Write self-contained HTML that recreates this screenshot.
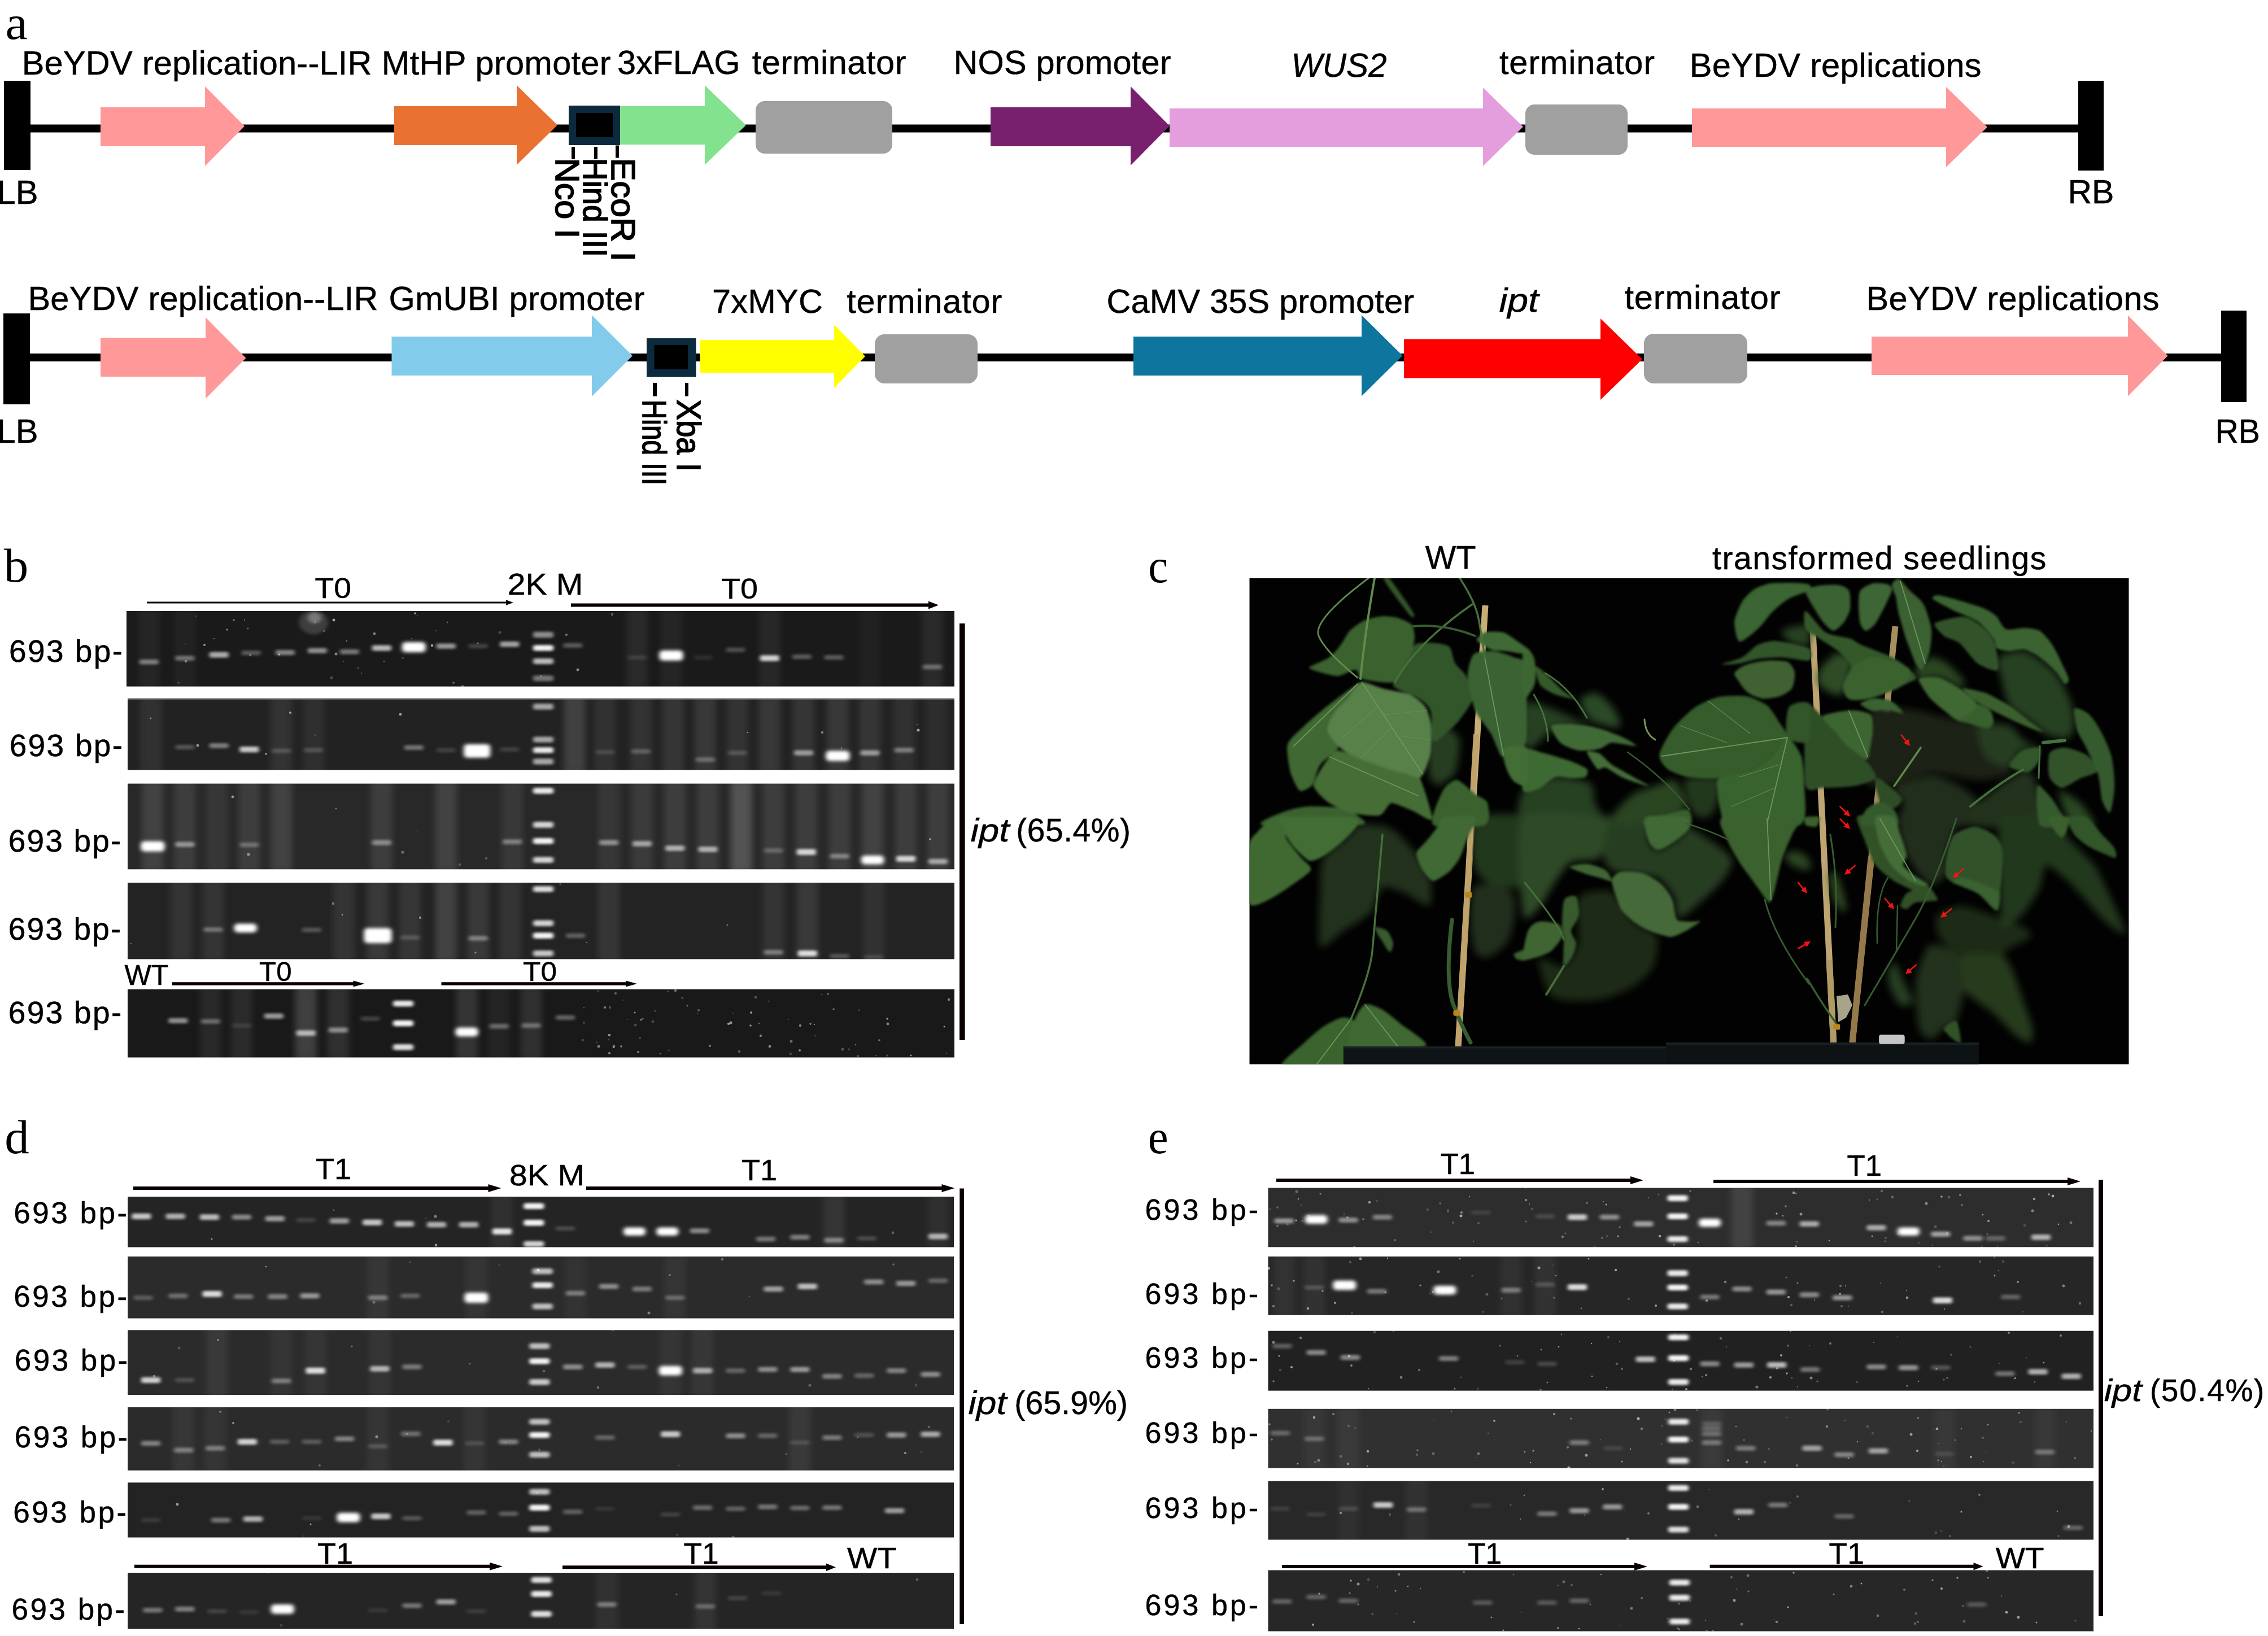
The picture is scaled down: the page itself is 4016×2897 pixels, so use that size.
<!DOCTYPE html>
<html lang="en"><head><meta charset="utf-8"><title>Figure</title>
<style>
html,body{margin:0;padding:0;background:#fff;}
body{width:4016px;height:2897px;overflow:hidden;}
svg{display:block;}
text{font-family:"Liberation Sans", Arial, sans-serif;fill:#000;stroke:#000;stroke-width:0.5px;}
text.v{stroke-width:1.7px;}
text.se{font-family:"Liberation Serif", "Times New Roman", serif;stroke-width:0;}
</style></head><body>
<svg width="4016" height="2897" viewBox="0 0 4016 2897">
<defs>
<filter id="b1" x="-20%" y="-60%" width="140%" height="220%"><feGaussianBlur stdDeviation="3 2"/></filter>
<filter id="b2" x="-20%" y="-60%" width="140%" height="220%"><feGaussianBlur stdDeviation="3.6 2.8"/></filter>
<filter id="bs" x="-30%" y="-10%" width="160%" height="120%"><feGaussianBlur stdDeviation="6 9"/></filter>
<filter id="lf" x="-5%" y="-5%" width="110%" height="110%"><feGaussianBlur stdDeviation="2.2"/></filter>
<filter id="lf2" x="-5%" y="-5%" width="110%" height="110%"><feGaussianBlur stdDeviation="7"/></filter>
</defs>
<rect width="4016" height="2897" fill="#fff"/>

<g id="panel-a">
<text x="9.5" y="69.2" font-size="84" textLength="39.3" lengthAdjust="spacingAndGlyphs" class="se" fill="#000">a</text>
<rect x="53.0" y="220.5" width="3628.0" height="14.0" fill="#000"/>
<rect x="7.0" y="143.0" width="47.0" height="158.0" fill="#000"/>
<rect x="3680.0" y="143.0" width="45.0" height="159.0" fill="#000"/>
<path d="M178.0 190.0H363.0V153.0L433.0 223.5L363.0 294.0V259.0H178.0Z" fill="#FF9999"/>
<path d="M698.0 188.0H915.0V151.0L987.0 221.5L915.0 292.0V257.0H698.0Z" fill="#E97132"/>
<rect x="1007.0" y="187.0" width="91.0" height="70.0" fill="#0B2A3D"/>
<rect x="1020.0" y="200.0" width="65.0" height="43.0" fill="#000"/>
<path d="M1098.0 188.0H1248.0V151.0L1321.0 221.5L1248.0 292.0V256.0H1098.0Z" fill="#83E28E"/>
<rect x="1338.0" y="179.0" width="242.0" height="93.0" rx="16" fill="#A0A0A0"/>
<path d="M1754.0 190.0H2002.0V153.0L2071.0 223.0L2002.0 293.0V259.0H1754.0Z" fill="#78206E"/>
<path d="M2071.0 192.0H2626.0V155.0L2697.0 224.5L2626.0 294.0V260.0H2071.0Z" fill="#E49EDD"/>
<rect x="2701.0" y="185.0" width="181.0" height="89.0" rx="16" fill="#A0A0A0"/>
<path d="M2996.0 192.0H3446.0V154.0L3519.0 225.0L3446.0 296.0V260.0H2996.0Z" fill="#FF9999"/>
<text x="38.7" y="132.0" font-size="59.5" textLength="619.8" lengthAdjust="spacing" fill="#000">BeYDV replication--LIR</text>
<text x="675.8" y="131.8" font-size="59.5" textLength="405.7" lengthAdjust="spacing" fill="#000">MtHP promoter</text>
<text x="1093.0" y="130.8" font-size="59.5" textLength="217.5" lengthAdjust="spacing" fill="#000">3xFLAG</text>
<text x="1331.8" y="130.8" font-size="59.5" textLength="272.7" lengthAdjust="spacing" fill="#000">terminator</text>
<text x="1688.4" y="131.0" font-size="59.5" textLength="385.1" lengthAdjust="spacing" fill="#000">NOS promoter</text>
<text x="2286.4" y="135.8" font-size="59.5" textLength="169.1" lengthAdjust="spacingAndGlyphs" font-style="italic" fill="#000">WUS2</text>
<text x="2654.9" y="130.7" font-size="59.5" textLength="275.2" lengthAdjust="spacing" fill="#000">terminator</text>
<text x="2991.8" y="135.8" font-size="59.5" textLength="516.7" lengthAdjust="spacing" fill="#000">BeYDV replications</text>
<text x="-5.6" y="361.0" font-size="59.5" textLength="73.1" lengthAdjust="spacingAndGlyphs" fill="#000">LB</text>
<text x="3661.4" y="360.0" font-size="59.5" textLength="82.1" lengthAdjust="spacingAndGlyphs" fill="#000">RB</text>
<rect x="1012.0" y="260.0" width="6.0" height="21.5" fill="#000"/>
<text class="v" transform="translate(984.0,279.8) rotate(90)" font-size="60" textLength="142.4" lengthAdjust="spacingAndGlyphs">Nco I</text>
<rect x="1052.0" y="260.0" width="6.0" height="21.5" fill="#000"/>
<text class="v" transform="translate(1032.6,279.8) rotate(90)" font-size="60" textLength="175.4" lengthAdjust="spacingAndGlyphs">Hind III</text>
<rect x="1090.0" y="257.5" width="6.0" height="22.0" fill="#000"/>
<text class="v" transform="translate(1082.5,279.8) rotate(90)" font-size="60" textLength="182.9" lengthAdjust="spacingAndGlyphs">EcoR I</text>
<rect x="53.0" y="626.0" width="3881.0" height="14.0" fill="#000"/>
<rect x="6.0" y="555.0" width="47.0" height="161.0" fill="#000"/>
<rect x="3933.0" y="550.0" width="45.0" height="162.0" fill="#000"/>
<path d="M178.0 598.0H364.0V562.0L435.5 634.0L364.0 706.0V667.0H178.0Z" fill="#FF9999"/>
<path d="M693.5 596.0H1048.0V558.0L1120.0 630.0L1048.0 702.0V665.0H693.5Z" fill="#83CBEB"/>
<rect x="1145.0" y="599.0" width="87.5" height="68.6" fill="#0B2A3D"/>
<rect x="1158.5" y="611.0" width="59.5" height="43.0" fill="#000"/>
<path d="M1239.5 602.0H1477.0V575.0L1532.0 631.0L1477.0 687.0V660.0H1239.5Z" fill="#FFFF00"/>
<rect x="1549.0" y="592.0" width="182.0" height="87.0" rx="17" fill="#A0A0A0"/>
<path d="M2007.0 596.0H2411.0V558.0L2483.5 629.8L2411.0 701.5V665.0H2007.0Z" fill="#0E769E"/>
<path d="M2486.0 600.6H2834.0V564.0L2908.0 636.0L2834.0 708.0V669.5H2486.0Z" fill="#FF0000"/>
<rect x="2911.0" y="591.0" width="183.0" height="88.0" rx="17" fill="#A0A0A0"/>
<path d="M3314.0 596.0H3768.0V558.5L3838.5 630.0L3768.0 701.5V664.0H3314.0Z" fill="#FF9999"/>
<text x="49.4" y="549.0" font-size="59.5" textLength="620.1" lengthAdjust="spacing" fill="#000">BeYDV replication--LIR</text>
<text x="688.4" y="549.0" font-size="59.5" textLength="453.1" lengthAdjust="spacing" fill="#000">GmUBI promoter</text>
<text x="1261.1" y="554.0" font-size="59.5" textLength="195.8" lengthAdjust="spacing" stroke-width="1.4" fill="#000">7xMYC</text>
<text x="1499.2" y="553.5" font-size="59.5" textLength="275.1" lengthAdjust="spacing" stroke-width="1.4" fill="#000">terminator</text>
<text x="1959.4" y="553.5" font-size="59.5" textLength="544.6" lengthAdjust="spacing" stroke-width="1.4" fill="#000">CaMV 35S promoter</text>
<text x="2654.4" y="552.0" font-size="59.5" textLength="70.1" lengthAdjust="spacingAndGlyphs" font-style="italic" fill="#000">ipt</text>
<text x="2876.4" y="547.0" font-size="59.5" textLength="276.1" lengthAdjust="spacing" fill="#000">terminator</text>
<text x="3304.4" y="549.0" font-size="59.5" textLength="519.1" lengthAdjust="spacing" fill="#000">BeYDV replications</text>
<text x="-5.6" y="784.0" font-size="59.5" textLength="73.1" lengthAdjust="spacingAndGlyphs" fill="#000">LB</text>
<text x="3922.4" y="784.0" font-size="59.5" textLength="79.6" lengthAdjust="spacingAndGlyphs" fill="#000">RB</text>
<rect x="1156.0" y="678.0" width="7.0" height="23.6" fill="#000"/>
<text class="v" transform="translate(1138.4,707.8) rotate(90)" font-size="60" textLength="151.4" lengthAdjust="spacingAndGlyphs">Hind III</text>
<rect x="1213.0" y="678.0" width="6.0" height="23.6" fill="#000"/>
<text class="v" transform="translate(1198.6,707.4) rotate(90)" font-size="60" textLength="127.8" lengthAdjust="spacingAndGlyphs">Xba I</text>
</g>
<g id="panel-b">
<text x="6.8" y="1030.0" font-size="85" textLength="43.5" lengthAdjust="spacingAndGlyphs" class="se" fill="#000">b</text>
<text x="16.1" y="1171.5" font-size="55" textLength="201.0" lengthAdjust="spacing" stroke-width="0.8" fill="#000">693 bp-</text>
<text x="16.7" y="1338.8" font-size="55" textLength="200.4" lengthAdjust="spacing" stroke-width="0.8" fill="#000">693 bp-</text>
<text x="14.7" y="1507.6" font-size="55" textLength="199.6" lengthAdjust="spacing" stroke-width="0.8" fill="#000">693 bp-</text>
<text x="14.7" y="1663.6" font-size="55" textLength="199.6" lengthAdjust="spacing" stroke-width="0.8" fill="#000">693 bp-</text>
<text x="14.7" y="1812.0" font-size="55" textLength="200.6" lengthAdjust="spacing" stroke-width="0.8" fill="#000">693 bp-</text>
<text x="557.6" y="1059.0" font-size="50" textLength="64.4" lengthAdjust="spacingAndGlyphs" stroke-width="2.0" fill="#000">T0</text>
<text x="898.8" y="1053.0" font-size="54" textLength="133.5" lengthAdjust="spacingAndGlyphs" stroke-width="2.0" fill="#000">2K M</text>
<text x="1277.0" y="1060.0" font-size="50" textLength="65.0" lengthAdjust="spacingAndGlyphs" stroke-width="2.0" fill="#000">T0</text>
<path d="M260.0 1065.5H896.0V1062.2L909.0 1067.0L896.0 1071.8V1068.5H260.0Z" fill="#0a0000"/>
<path d="M1011.0 1068.5H1644.0V1064.5L1662.0 1071.5L1644.0 1078.5V1074.5H1011.0Z" fill="#0a0000"/>
<text x="220.5" y="1744.0" font-size="50" textLength="78.0" lengthAdjust="spacingAndGlyphs" stroke-width="2.0" fill="#000">WT</text>
<text x="459.1" y="1737.0" font-size="49" textLength="57.4" lengthAdjust="spacingAndGlyphs" stroke-width="2.0" fill="#000">T0</text>
<text x="926.1" y="1737.0" font-size="49" textLength="59.9" lengthAdjust="spacingAndGlyphs" stroke-width="2.0" fill="#000">T0</text>
<path d="M305.0 1739.2H625.5V1736.4L645.5 1742.0L625.5 1747.6V1744.8H305.0Z" fill="#0a0000"/>
<path d="M781.5 1739.2H1108.0V1736.4L1128.0 1742.0L1108.0 1747.6V1744.8H781.5Z" fill="#0a0000"/>
<rect x="1699.0" y="1104.0" width="9.6" height="738.0" fill="#0a0000"/>
<text x="1718.6" y="1490.0" font-size="57" textLength="68.8" lengthAdjust="spacingAndGlyphs" font-style="italic" fill="#000">ipt</text>
<text x="1799.2" y="1490.0" font-size="57" textLength="202.7" lengthAdjust="spacing" fill="#000">(65.4%)</text>
<clipPath id="c224_1082"><rect x="224.0" y="1082.0" width="1466.0" height="133.6"/></clipPath>
<rect x="224.0" y="1082.0" width="1466.0" height="133.6" fill="#1a1a1a"/>
<g clip-path="url(#c224_1082)">
<g filter="url(#bs)">
<rect x="244.7" y="1072.0" width="38.0" height="153.6" fill="#fff" opacity="0.05"/>
<rect x="308.3" y="1072.0" width="38.0" height="153.6" fill="#fff" opacity="0.04"/>
<rect x="1109.2" y="1072.0" width="38.0" height="153.6" fill="#fff" opacity="0.07"/>
<rect x="1169.5" y="1072.0" width="38.0" height="153.6" fill="#fff" opacity="0.05"/>
<rect x="1343.8" y="1072.0" width="38.0" height="153.6" fill="#fff" opacity="0.06"/>
<rect x="1632.0" y="1072.0" width="38.0" height="153.6" fill="#fff" opacity="0.07"/>
<rect x="1521.4" y="1072.0" width="38.0" height="153.6" fill="#fff" opacity="0.03"/>
</g>
<circle cx="558" cy="1102" r="2.0" fill="#fff" opacity="0.18"/>
<circle cx="729" cy="1131" r="1.1" fill="#fff" opacity="0.38"/>
<circle cx="328" cy="1140" r="1.1" fill="#fff" opacity="0.19"/>
<circle cx="640" cy="1192" r="1.2" fill="#fff" opacity="0.25"/>
<circle cx="803" cy="1209" r="1.9" fill="#fff" opacity="0.33"/>
<circle cx="1084" cy="1088" r="2.4" fill="#fff" opacity="0.28"/>
<circle cx="414" cy="1098" r="1.5" fill="#fff" opacity="0.52"/>
<circle cx="443" cy="1160" r="2.0" fill="#fff" opacity="0.32"/>
<circle cx="739" cy="1090" r="1.1" fill="#fff" opacity="0.24"/>
<circle cx="846" cy="1139" r="1.5" fill="#fff" opacity="0.41"/>
<circle cx="663" cy="1122" r="2.3" fill="#fff" opacity="0.46"/>
<circle cx="494" cy="1159" r="1.8" fill="#fff" opacity="0.54"/>
<circle cx="885" cy="1120" r="2.6" fill="#fff" opacity="0.20"/>
<circle cx="634" cy="1183" r="1.2" fill="#fff" opacity="0.37"/>
<circle cx="329" cy="1171" r="2.2" fill="#fff" opacity="0.41"/>
<circle cx="1003" cy="1124" r="2.1" fill="#fff" opacity="0.42"/>
<circle cx="765" cy="1143" r="2.3" fill="#fff" opacity="0.58"/>
<circle cx="680" cy="1171" r="1.1" fill="#fff" opacity="0.47"/>
<circle cx="819" cy="1215" r="2.3" fill="#fff" opacity="0.28"/>
<circle cx="608" cy="1171" r="1.0" fill="#fff" opacity="0.36"/>
<circle cx="433" cy="1098" r="1.1" fill="#fff" opacity="0.50"/>
<circle cx="402" cy="1115" r="1.6" fill="#fff" opacity="0.54"/>
<circle cx="362" cy="1142" r="1.9" fill="#fff" opacity="0.55"/>
<circle cx="958" cy="1197" r="1.4" fill="#fff" opacity="0.34"/>
<circle cx="587" cy="1200" r="2.5" fill="#fff" opacity="0.22"/>
<circle cx="439" cy="1113" r="1.4" fill="#fff" opacity="0.37"/>
<circle cx="772" cy="1117" r="1.0" fill="#fff" opacity="0.34"/>
<circle cx="595" cy="1158" r="2.5" fill="#fff" opacity="0.46"/>
<circle cx="713" cy="1165" r="2.1" fill="#fff" opacity="0.17"/>
<circle cx="1023" cy="1186" r="2.4" fill="#fff" opacity="0.51"/>
<circle cx="614" cy="1135" r="1.2" fill="#fff" opacity="0.44"/>
<circle cx="347" cy="1091" r="1.3" fill="#fff" opacity="0.22"/>
<circle cx="571" cy="1089" r="1.0" fill="#fff" opacity="0.22"/>
<circle cx="379" cy="1131" r="1.0" fill="#fff" opacity="0.54"/>
<circle cx="792" cy="1102" r="1.4" fill="#fff" opacity="0.31"/>
<circle cx="591" cy="1098" r="2.4" fill="#fff" opacity="0.60"/>
<circle cx="673" cy="1147" r="1.1" fill="#fff" opacity="0.20"/>
<circle cx="574" cy="1117" r="2.3" fill="#fff" opacity="0.22"/>
<circle cx="316" cy="1209" r="1.8" fill="#fff" opacity="0.22"/>
<circle cx="735" cy="1086" r="1.8" fill="#fff" opacity="0.59"/>
<g filter="url(#b1)">
<rect x="246.7" y="1167.8" width="34.0" height="8.8" rx="3" fill="#fff" opacity="0.41"/>
<rect x="310.3" y="1161.2" width="34.0" height="8.6" rx="3" fill="#fff" opacity="0.37"/>
<rect x="370.7" y="1154.6" width="34.0" height="9.8" rx="3" fill="#fff" opacity="0.64"/>
<rect x="427.6" y="1152.1" width="34.0" height="8.2" rx="3" fill="#fff" opacity="0.28"/>
<rect x="487.9" y="1151.0" width="34.0" height="9.0" rx="3" fill="#fff" opacity="0.46"/>
<rect x="544.9" y="1147.5" width="34.0" height="9.2" rx="3" fill="#fff" opacity="0.51"/>
<rect x="601.9" y="1149.7" width="34.0" height="8.8" rx="3" fill="#fff" opacity="0.41"/>
<rect x="658.8" y="1142.4" width="34.0" height="10.0" rx="3" fill="#fff" opacity="0.69"/>
<rect x="772.8" y="1139.4" width="34.0" height="9.4" rx="3" fill="#fff" opacity="0.55"/>
<rect x="829.7" y="1140.2" width="34.0" height="7.8" rx="3" fill="#fff" opacity="0.18"/>
<rect x="885.4" y="1135.9" width="34.0" height="9.6" rx="3" fill="#fff" opacity="0.60"/>
<rect x="997.3" y="1138.7" width="34.0" height="8.2" rx="3" fill="#fff" opacity="0.28"/>
<rect x="1111.2" y="1160.5" width="34.0" height="7.5" rx="3" fill="#fff" opacity="0.11"/>
<rect x="1228.5" y="1160.5" width="34.0" height="7.4" rx="3" fill="#fff" opacity="0.09"/>
<rect x="1285.5" y="1146.8" width="34.0" height="8.0" rx="3" fill="#fff" opacity="0.23"/>
<rect x="1345.8" y="1160.3" width="34.0" height="10.4" rx="3" fill="#fff" opacity="0.78"/>
<rect x="1402.8" y="1158.8" width="34.0" height="8.2" rx="3" fill="#fff" opacity="0.28"/>
<rect x="1459.7" y="1160.1" width="34.0" height="8.2" rx="3" fill="#fff" opacity="0.28"/>
<rect x="1634.0" y="1176.8" width="34.0" height="8.4" rx="3" fill="#fff" opacity="0.32"/>
<rect x="944.0" y="1118.8" width="36.0" height="10.4" rx="4" fill="#fff" opacity="0.50"/>
<rect x="944.0" y="1142.2" width="36.0" height="10.4" rx="4" fill="#fff" opacity="0.95"/>
<rect x="944.0" y="1165.7" width="36.0" height="10.4" rx="4" fill="#fff" opacity="0.70"/>
<rect x="944.0" y="1195.9" width="36.0" height="10.4" rx="4" fill="#fff" opacity="0.40"/>
</g>
<g filter="url(#b2)">
<rect x="709.8" y="1135.1" width="46.0" height="22.0" rx="8" fill="#fff" opacity="0.35"/>
<rect x="712.8" y="1138.1" width="40.0" height="16.0" rx="6" fill="#fff"/>
<rect x="1165.5" y="1149.8" width="46.0" height="22.0" rx="8" fill="#fff" opacity="0.35"/>
<rect x="1168.5" y="1152.8" width="40.0" height="16.0" rx="6" fill="#fff"/>
</g>
<g filter="url(#b2)"><ellipse cx="555" cy="1102" rx="26" ry="21" fill="#fff" opacity="0.16"/><ellipse cx="557" cy="1094" rx="12" ry="10" fill="#fff" opacity="0.3"/></g>
</g>
<clipPath id="c226_1236"><rect x="226.0" y="1236.5" width="1464.0" height="127.0"/></clipPath>
<rect x="226.0" y="1236.5" width="1464.0" height="127.0" fill="#222222"/>
<g clip-path="url(#c226_1236)">
<g filter="url(#bs)">
<rect x="248.0" y="1226.5" width="38.0" height="147.0" fill="#fff" opacity="0.07"/>
<rect x="479.2" y="1226.5" width="38.0" height="147.0" fill="#fff" opacity="0.08"/>
<rect x="536.2" y="1226.5" width="38.0" height="147.0" fill="#fff" opacity="0.06"/>
<rect x="998.6" y="1226.5" width="38.0" height="147.0" fill="#fff" opacity="0.14"/>
<rect x="1052.3" y="1226.5" width="38.0" height="147.0" fill="#fff" opacity="0.07"/>
<rect x="1115.9" y="1226.5" width="38.0" height="147.0" fill="#fff" opacity="0.08"/>
<rect x="1172.9" y="1226.5" width="38.0" height="147.0" fill="#fff" opacity="0.09"/>
<rect x="1229.9" y="1226.5" width="38.0" height="147.0" fill="#fff" opacity="0.10"/>
<rect x="1286.8" y="1226.5" width="38.0" height="147.0" fill="#fff" opacity="0.08"/>
<rect x="1343.8" y="1226.5" width="38.0" height="147.0" fill="#fff" opacity="0.10"/>
<rect x="1404.1" y="1226.5" width="38.0" height="147.0" fill="#fff" opacity="0.09"/>
<rect x="1464.4" y="1226.5" width="38.0" height="147.0" fill="#fff" opacity="0.10"/>
<rect x="1521.4" y="1226.5" width="38.0" height="147.0" fill="#fff" opacity="0.09"/>
<rect x="1581.7" y="1226.5" width="38.0" height="147.0" fill="#fff" opacity="0.07"/>
<rect x="1638.7" y="1226.5" width="38.0" height="147.0" fill="#fff" opacity="0.05"/>
</g>
<circle cx="1490" cy="1325" r="1.4" fill="#fff" opacity="0.32"/>
<circle cx="471" cy="1335" r="1.9" fill="#fff" opacity="0.50"/>
<circle cx="709" cy="1265" r="2.3" fill="#fff" opacity="0.59"/>
<circle cx="1474" cy="1339" r="2.3" fill="#fff" opacity="0.48"/>
<circle cx="558" cy="1302" r="1.6" fill="#fff" opacity="0.16"/>
<circle cx="267" cy="1272" r="1.4" fill="#fff" opacity="0.46"/>
<circle cx="1626" cy="1293" r="2.5" fill="#fff" opacity="0.59"/>
<circle cx="1624" cy="1283" r="1.4" fill="#fff" opacity="0.25"/>
<circle cx="514" cy="1262" r="2.0" fill="#fff" opacity="0.56"/>
<circle cx="1456" cy="1297" r="2.0" fill="#fff" opacity="0.51"/>
<circle cx="350" cy="1320" r="2.5" fill="#fff" opacity="0.50"/>
<circle cx="1324" cy="1297" r="1.3" fill="#fff" opacity="0.51"/>
<g filter="url(#b1)">
<rect x="310.3" y="1319.0" width="34.0" height="8.0" rx="3" fill="#fff" opacity="0.23"/>
<rect x="370.7" y="1316.0" width="34.0" height="8.8" rx="3" fill="#fff" opacity="0.41"/>
<rect x="424.3" y="1322.0" width="34.0" height="10.2" rx="3" fill="#fff" opacity="0.74"/>
<rect x="481.2" y="1325.8" width="34.0" height="7.8" rx="3" fill="#fff" opacity="0.18"/>
<rect x="538.2" y="1324.5" width="34.0" height="7.8" rx="3" fill="#fff" opacity="0.18"/>
<rect x="715.8" y="1319.4" width="34.0" height="8.6" rx="3" fill="#fff" opacity="0.37"/>
<rect x="772.8" y="1324.6" width="34.0" height="7.6" rx="3" fill="#fff" opacity="0.14"/>
<rect x="885.4" y="1323.3" width="34.0" height="7.6" rx="3" fill="#fff" opacity="0.14"/>
<rect x="1054.3" y="1327.9" width="34.0" height="7.6" rx="3" fill="#fff" opacity="0.14"/>
<rect x="1117.9" y="1326.4" width="34.0" height="8.0" rx="3" fill="#fff" opacity="0.23"/>
<rect x="1231.9" y="1341.0" width="34.0" height="8.2" rx="3" fill="#fff" opacity="0.28"/>
<rect x="1288.8" y="1329.2" width="34.0" height="7.8" rx="3" fill="#fff" opacity="0.18"/>
<rect x="1406.1" y="1328.5" width="34.0" height="9.2" rx="3" fill="#fff" opacity="0.51"/>
<rect x="1523.4" y="1328.5" width="34.0" height="9.2" rx="3" fill="#fff" opacity="0.51"/>
<rect x="1583.7" y="1324.1" width="34.0" height="8.6" rx="3" fill="#fff" opacity="0.37"/>
<rect x="944.0" y="1246.1" width="36.0" height="10.4" rx="4" fill="#fff" opacity="0.60"/>
<rect x="944.0" y="1304.4" width="36.0" height="10.4" rx="4" fill="#fff" opacity="0.60"/>
<rect x="944.0" y="1323.2" width="36.0" height="10.4" rx="4" fill="#fff" opacity="0.90"/>
<rect x="944.0" y="1343.3" width="36.0" height="10.4" rx="4" fill="#fff" opacity="0.60"/>
</g>
<g filter="url(#b2)">
<rect x="819.2" y="1315.7" width="51.0" height="28.0" rx="8" fill="#fff" opacity="0.35"/>
<rect x="822.2" y="1318.7" width="45.0" height="22.0" rx="6" fill="#fff"/>
<rect x="1460.4" y="1327.4" width="46.0" height="22.0" rx="8" fill="#fff" opacity="0.35"/>
<rect x="1463.4" y="1330.4" width="40.0" height="16.0" rx="6" fill="#fff"/>
</g>
<rect x="226.0" y="1236.5" width="1464.0" height="2.0" fill="#9a9a9a"/>
</g>
<clipPath id="c226_1387"><rect x="226.0" y="1387.6" width="1464.0" height="151.7"/></clipPath>
<rect x="226.0" y="1387.6" width="1464.0" height="151.7" fill="#282828"/>
<g clip-path="url(#c226_1387)">
<g filter="url(#bs)">
<rect x="251.4" y="1377.6" width="38.0" height="171.7" fill="#fff" opacity="0.12"/>
<rect x="308.3" y="1377.6" width="38.0" height="171.7" fill="#fff" opacity="0.10"/>
<rect x="365.3" y="1377.6" width="38.0" height="171.7" fill="#fff" opacity="0.07"/>
<rect x="422.3" y="1377.6" width="38.0" height="171.7" fill="#fff" opacity="0.10"/>
<rect x="479.2" y="1377.6" width="38.0" height="171.7" fill="#fff" opacity="0.12"/>
<rect x="656.8" y="1377.6" width="38.0" height="171.7" fill="#fff" opacity="0.10"/>
<rect x="770.8" y="1377.6" width="38.0" height="171.7" fill="#fff" opacity="0.12"/>
<rect x="888.1" y="1377.6" width="38.0" height="171.7" fill="#fff" opacity="0.08"/>
<rect x="1059.0" y="1377.6" width="38.0" height="171.7" fill="#fff" opacity="0.07"/>
<rect x="1117.9" y="1377.6" width="38.0" height="171.7" fill="#fff" opacity="0.09"/>
<rect x="1176.2" y="1377.6" width="38.0" height="171.7" fill="#fff" opacity="0.10"/>
<rect x="1234.5" y="1377.6" width="38.0" height="171.7" fill="#fff" opacity="0.10"/>
<rect x="1293.5" y="1377.6" width="38.0" height="171.7" fill="#fff" opacity="0.20"/>
<rect x="1350.5" y="1377.6" width="38.0" height="171.7" fill="#fff" opacity="0.10"/>
<rect x="1408.8" y="1377.6" width="38.0" height="171.7" fill="#fff" opacity="0.10"/>
<rect x="1467.8" y="1377.6" width="38.0" height="171.7" fill="#fff" opacity="0.10"/>
<rect x="1526.1" y="1377.6" width="38.0" height="171.7" fill="#fff" opacity="0.12"/>
<rect x="1585.1" y="1377.6" width="38.0" height="171.7" fill="#fff" opacity="0.10"/>
<rect x="1642.0" y="1377.6" width="38.0" height="171.7" fill="#fff" opacity="0.10"/>
</g>
<circle cx="713" cy="1509" r="2.6" fill="#fff" opacity="0.33"/>
<circle cx="814" cy="1531" r="2.2" fill="#fff" opacity="0.23"/>
<circle cx="412" cy="1411" r="2.4" fill="#fff" opacity="0.51"/>
<circle cx="440" cy="1513" r="2.6" fill="#fff" opacity="0.45"/>
<circle cx="739" cy="1471" r="1.2" fill="#fff" opacity="0.16"/>
<circle cx="1647" cy="1486" r="1.8" fill="#fff" opacity="0.57"/>
<circle cx="861" cy="1520" r="2.3" fill="#fff" opacity="0.24"/>
<circle cx="595" cy="1432" r="1.4" fill="#fff" opacity="0.41"/>
<g filter="url(#b1)">
<rect x="310.3" y="1490.8" width="34.0" height="9.0" rx="3" fill="#fff" opacity="0.46"/>
<rect x="424.3" y="1491.9" width="34.0" height="8.2" rx="3" fill="#fff" opacity="0.28"/>
<rect x="658.8" y="1487.6" width="34.0" height="8.8" rx="3" fill="#fff" opacity="0.41"/>
<rect x="890.1" y="1486.3" width="34.0" height="8.6" rx="3" fill="#fff" opacity="0.37"/>
<rect x="1061.0" y="1487.5" width="34.0" height="9.0" rx="3" fill="#fff" opacity="0.46"/>
<rect x="1119.9" y="1489.3" width="34.0" height="9.4" rx="3" fill="#fff" opacity="0.55"/>
<rect x="1178.2" y="1497.2" width="34.0" height="9.6" rx="3" fill="#fff" opacity="0.60"/>
<rect x="1236.5" y="1499.2" width="34.0" height="9.6" rx="3" fill="#fff" opacity="0.60"/>
<rect x="1352.5" y="1502.0" width="34.0" height="8.0" rx="3" fill="#fff" opacity="0.23"/>
<rect x="1410.8" y="1503.5" width="34.0" height="10.4" rx="3" fill="#fff" opacity="0.78"/>
<rect x="1469.8" y="1511.8" width="34.0" height="8.6" rx="3" fill="#fff" opacity="0.37"/>
<rect x="1587.1" y="1515.6" width="34.0" height="10.4" rx="3" fill="#fff" opacity="0.78"/>
<rect x="1644.0" y="1520.8" width="34.0" height="9.4" rx="3" fill="#fff" opacity="0.55"/>
<rect x="944.0" y="1395.0" width="36.0" height="10.4" rx="4" fill="#fff" opacity="0.90"/>
<rect x="944.0" y="1455.3" width="36.0" height="10.4" rx="4" fill="#fff" opacity="0.80"/>
<rect x="944.0" y="1484.1" width="36.0" height="10.4" rx="4" fill="#fff" opacity="0.95"/>
<rect x="944.0" y="1517.6" width="36.0" height="10.4" rx="4" fill="#fff" opacity="0.80"/>
</g>
<g filter="url(#b2)">
<rect x="247.4" y="1487.7" width="46.0" height="22.0" rx="8" fill="#fff" opacity="0.35"/>
<rect x="250.4" y="1490.7" width="40.0" height="16.0" rx="6" fill="#fff"/>
<rect x="1523.1" y="1513.0" width="44.0" height="19.6" rx="8" fill="#fff" opacity="0.35"/>
<rect x="1526.1" y="1516.0" width="38.0" height="13.6" rx="6" fill="#fff"/>
</g>
</g>
<clipPath id="c226_1563"><rect x="226.0" y="1563.0" width="1464.0" height="135.4"/></clipPath>
<rect x="226.0" y="1563.0" width="1464.0" height="135.4" fill="#232323"/>
<g clip-path="url(#c226_1563)">
<g filter="url(#bs)">
<rect x="301.6" y="1553.0" width="38.0" height="155.4" fill="#fff" opacity="0.08"/>
<rect x="358.6" y="1553.0" width="38.0" height="155.4" fill="#fff" opacity="0.08"/>
<rect x="589.8" y="1553.0" width="38.0" height="155.4" fill="#fff" opacity="0.08"/>
<rect x="650.1" y="1553.0" width="38.0" height="155.4" fill="#fff" opacity="0.10"/>
<rect x="707.1" y="1553.0" width="38.0" height="155.4" fill="#fff" opacity="0.09"/>
<rect x="770.8" y="1553.0" width="38.0" height="155.4" fill="#fff" opacity="0.14"/>
<rect x="827.7" y="1553.0" width="38.0" height="155.4" fill="#fff" opacity="0.10"/>
<rect x="884.7" y="1553.0" width="38.0" height="155.4" fill="#fff" opacity="0.08"/>
<rect x="1059.0" y="1553.0" width="38.0" height="155.4" fill="#fff" opacity="0.09"/>
<rect x="1350.5" y="1553.0" width="38.0" height="155.4" fill="#fff" opacity="0.08"/>
<rect x="1410.8" y="1553.0" width="38.0" height="155.4" fill="#fff" opacity="0.10"/>
<rect x="1528.1" y="1553.0" width="38.0" height="155.4" fill="#fff" opacity="0.07"/>
</g>
<circle cx="606" cy="1620" r="1.2" fill="#fff" opacity="0.56"/>
<circle cx="744" cy="1625" r="1.9" fill="#fff" opacity="0.56"/>
<circle cx="842" cy="1687" r="1.8" fill="#fff" opacity="0.39"/>
<circle cx="992" cy="1566" r="1.7" fill="#fff" opacity="0.23"/>
<circle cx="232" cy="1671" r="1.3" fill="#fff" opacity="0.36"/>
<circle cx="1288" cy="1638" r="1.5" fill="#fff" opacity="0.38"/>
<circle cx="1039" cy="1669" r="1.2" fill="#fff" opacity="0.40"/>
<circle cx="590" cy="1600" r="2.2" fill="#fff" opacity="0.38"/>
<g filter="url(#b1)">
<rect x="360.6" y="1641.9" width="34.0" height="8.4" rx="3" fill="#fff" opacity="0.32"/>
<rect x="534.9" y="1642.8" width="34.0" height="8.0" rx="3" fill="#fff" opacity="0.23"/>
<rect x="709.1" y="1656.3" width="34.0" height="7.8" rx="3" fill="#fff" opacity="0.18"/>
<rect x="829.7" y="1657.2" width="34.0" height="8.6" rx="3" fill="#fff" opacity="0.37"/>
<rect x="1002.0" y="1652.7" width="34.0" height="8.2" rx="3" fill="#fff" opacity="0.28"/>
<rect x="1352.5" y="1682.0" width="34.0" height="8.6" rx="3" fill="#fff" opacity="0.37"/>
<rect x="1412.8" y="1683.0" width="34.0" height="10.6" rx="3" fill="#fff" opacity="0.83"/>
<rect x="1469.8" y="1689.0" width="34.0" height="8.0" rx="3" fill="#fff" opacity="0.23"/>
<rect x="1530.1" y="1691.2" width="34.0" height="7.6" rx="3" fill="#fff" opacity="0.14"/>
<rect x="944.0" y="1569.2" width="36.0" height="10.4" rx="4" fill="#fff" opacity="0.85"/>
<rect x="944.0" y="1629.5" width="36.0" height="10.4" rx="4" fill="#fff" opacity="0.80"/>
<rect x="944.0" y="1651.6" width="36.0" height="10.4" rx="4" fill="#fff" opacity="0.95"/>
<rect x="944.0" y="1683.1" width="36.0" height="10.4" rx="4" fill="#fff" opacity="0.75"/>
</g>
<g filter="url(#b2)">
<rect x="412.6" y="1633.6" width="44.0" height="19.6" rx="8" fill="#fff" opacity="0.35"/>
<rect x="415.6" y="1636.6" width="38.0" height="13.6" rx="6" fill="#fff"/>
<rect x="642.6" y="1641.6" width="53.0" height="30.4" rx="8" fill="#fff" opacity="0.35"/>
<rect x="645.6" y="1644.6" width="47.0" height="24.4" rx="6" fill="#fff"/>
</g>
</g>
<clipPath id="c226_1751"><rect x="226.0" y="1751.8" width="1464.0" height="120.7"/></clipPath>
<rect x="226.0" y="1751.8" width="1464.0" height="120.7" fill="#191919"/>
<g clip-path="url(#c226_1751)">
<g filter="url(#bs)">
<rect x="353.9" y="1741.8" width="38.0" height="140.7" fill="#fff" opacity="0.07"/>
<rect x="408.9" y="1741.8" width="38.0" height="140.7" fill="#fff" opacity="0.08"/>
<rect x="522.8" y="1741.8" width="38.0" height="140.7" fill="#fff" opacity="0.17"/>
<rect x="579.8" y="1741.8" width="38.0" height="140.7" fill="#fff" opacity="0.10"/>
<rect x="807.6" y="1741.8" width="38.0" height="140.7" fill="#fff" opacity="0.12"/>
<rect x="864.6" y="1741.8" width="38.0" height="140.7" fill="#fff" opacity="0.05"/>
<rect x="921.6" y="1741.8" width="38.0" height="140.7" fill="#fff" opacity="0.10"/>
</g>
<circle cx="1401" cy="1844" r="2.5" fill="#fff" opacity="0.35"/>
<circle cx="1435" cy="1813" r="1.8" fill="#fff" opacity="0.46"/>
<circle cx="1329" cy="1816" r="1.8" fill="#fff" opacity="0.57"/>
<circle cx="1492" cy="1858" r="2.5" fill="#fff" opacity="0.27"/>
<circle cx="1400" cy="1866" r="2.3" fill="#fff" opacity="0.21"/>
<circle cx="1111" cy="1805" r="1.1" fill="#fff" opacity="0.26"/>
<circle cx="1079" cy="1833" r="2.3" fill="#fff" opacity="0.55"/>
<circle cx="1133" cy="1838" r="2.1" fill="#fff" opacity="0.21"/>
<circle cx="1613" cy="1869" r="1.4" fill="#fff" opacity="0.58"/>
<circle cx="1294" cy="1811" r="2.6" fill="#fff" opacity="0.52"/>
<circle cx="1138" cy="1804" r="1.8" fill="#fff" opacity="0.30"/>
<circle cx="1160" cy="1790" r="2.2" fill="#fff" opacity="0.16"/>
<circle cx="1396" cy="1805" r="1.0" fill="#fff" opacity="0.30"/>
<circle cx="1442" cy="1814" r="1.1" fill="#fff" opacity="0.59"/>
<circle cx="1551" cy="1869" r="1.2" fill="#fff" opacity="0.27"/>
<circle cx="1057" cy="1846" r="1.4" fill="#fff" opacity="0.21"/>
<circle cx="1309" cy="1862" r="2.3" fill="#fff" opacity="0.27"/>
<circle cx="1130" cy="1863" r="1.9" fill="#fff" opacity="0.47"/>
<circle cx="1090" cy="1759" r="2.1" fill="#fff" opacity="0.34"/>
<circle cx="1079" cy="1865" r="2.0" fill="#fff" opacity="0.51"/>
<circle cx="1086" cy="1855" r="1.1" fill="#fff" opacity="0.54"/>
<circle cx="1330" cy="1793" r="1.9" fill="#fff" opacity="0.57"/>
<circle cx="1208" cy="1767" r="1.8" fill="#fff" opacity="0.26"/>
<circle cx="1103" cy="1771" r="1.1" fill="#fff" opacity="0.24"/>
<circle cx="1237" cy="1789" r="2.2" fill="#fff" opacity="0.28"/>
<circle cx="1361" cy="1773" r="1.6" fill="#fff" opacity="0.16"/>
<circle cx="1196" cy="1754" r="2.2" fill="#fff" opacity="0.40"/>
<circle cx="1156" cy="1809" r="2.5" fill="#fff" opacity="0.20"/>
<circle cx="1571" cy="1804" r="1.8" fill="#fff" opacity="0.53"/>
<circle cx="1290" cy="1813" r="2.1" fill="#fff" opacity="0.59"/>
<circle cx="1257" cy="1852" r="2.1" fill="#fff" opacity="0.44"/>
<circle cx="1298" cy="1794" r="1.1" fill="#fff" opacity="0.21"/>
<circle cx="1078" cy="1841" r="1.4" fill="#fff" opacity="0.22"/>
<circle cx="1087" cy="1853" r="2.4" fill="#fff" opacity="0.45"/>
<circle cx="1217" cy="1781" r="1.5" fill="#fff" opacity="0.36"/>
<circle cx="1135" cy="1806" r="1.4" fill="#fff" opacity="0.58"/>
<circle cx="1672" cy="1818" r="1.4" fill="#fff" opacity="0.58"/>
<circle cx="1235" cy="1795" r="1.0" fill="#fff" opacity="0.32"/>
<circle cx="1344" cy="1812" r="1.3" fill="#fff" opacity="0.38"/>
<circle cx="1034" cy="1784" r="1.1" fill="#fff" opacity="0.33"/>
<circle cx="1059" cy="1755" r="1.5" fill="#fff" opacity="0.25"/>
<circle cx="1417" cy="1816" r="2.2" fill="#fff" opacity="0.45"/>
<circle cx="1503" cy="1858" r="1.6" fill="#fff" opacity="0.30"/>
<circle cx="1680" cy="1770" r="2.2" fill="#fff" opacity="0.44"/>
<circle cx="1060" cy="1853" r="2.4" fill="#fff" opacity="0.43"/>
<circle cx="1515" cy="1850" r="1.2" fill="#fff" opacity="0.39"/>
<circle cx="1363" cy="1853" r="2.3" fill="#fff" opacity="0.52"/>
<circle cx="1416" cy="1860" r="2.1" fill="#fff" opacity="0.46"/>
<circle cx="1183" cy="1756" r="1.2" fill="#fff" opacity="0.31"/>
<circle cx="1100" cy="1853" r="1.9" fill="#fff" opacity="0.43"/>
<circle cx="1444" cy="1834" r="1.8" fill="#fff" opacity="0.15"/>
<circle cx="1557" cy="1842" r="1.8" fill="#fff" opacity="0.39"/>
<circle cx="1466" cy="1760" r="2.2" fill="#fff" opacity="0.26"/>
<circle cx="1080" cy="1784" r="2.2" fill="#fff" opacity="0.24"/>
<circle cx="1519" cy="1870" r="1.8" fill="#fff" opacity="0.32"/>
<circle cx="1347" cy="1834" r="2.2" fill="#fff" opacity="0.43"/>
<circle cx="1455" cy="1761" r="1.2" fill="#fff" opacity="0.26"/>
<circle cx="1521" cy="1789" r="1.9" fill="#fff" opacity="0.16"/>
<circle cx="1071" cy="1784" r="2.1" fill="#fff" opacity="0.46"/>
<circle cx="1476" cy="1787" r="1.8" fill="#fff" opacity="0.36"/>
<circle cx="1338" cy="1766" r="2.4" fill="#fff" opacity="0.24"/>
<circle cx="1676" cy="1865" r="1.0" fill="#fff" opacity="0.36"/>
<circle cx="1571" cy="1869" r="1.7" fill="#fff" opacity="0.27"/>
<circle cx="1169" cy="1866" r="1.3" fill="#fff" opacity="0.41"/>
<circle cx="1125" cy="1815" r="2.5" fill="#fff" opacity="0.21"/>
<circle cx="1572" cy="1813" r="2.4" fill="#fff" opacity="0.47"/>
<circle cx="1184" cy="1860" r="1.8" fill="#fff" opacity="0.16"/>
<circle cx="1034" cy="1811" r="1.7" fill="#fff" opacity="0.29"/>
<circle cx="1124" cy="1793" r="1.5" fill="#fff" opacity="0.53"/>
<circle cx="1032" cy="1842" r="2.3" fill="#fff" opacity="0.20"/>
<g filter="url(#b1)">
<rect x="298.3" y="1802.7" width="34.0" height="9.2" rx="3" fill="#fff" opacity="0.51"/>
<rect x="355.9" y="1804.4" width="34.0" height="8.4" rx="3" fill="#fff" opacity="0.32"/>
<rect x="410.9" y="1812.3" width="34.0" height="7.5" rx="3" fill="#fff" opacity="0.11"/>
<rect x="467.8" y="1794.5" width="34.0" height="9.4" rx="3" fill="#fff" opacity="0.55"/>
<rect x="524.8" y="1824.5" width="34.0" height="9.8" rx="3" fill="#fff" opacity="0.64"/>
<rect x="581.8" y="1819.5" width="34.0" height="9.0" rx="3" fill="#fff" opacity="0.46"/>
<rect x="638.7" y="1800.0" width="34.0" height="7.8" rx="3" fill="#fff" opacity="0.18"/>
<rect x="866.6" y="1813.1" width="34.0" height="8.4" rx="3" fill="#fff" opacity="0.32"/>
<rect x="923.6" y="1811.8" width="34.0" height="8.4" rx="3" fill="#fff" opacity="0.32"/>
<rect x="983.9" y="1797.7" width="34.0" height="8.4" rx="3" fill="#fff" opacity="0.32"/>
<rect x="696.0" y="1771.9" width="36.0" height="10.4" rx="4" fill="#fff" opacity="0.90"/>
<rect x="696.0" y="1806.8" width="36.0" height="10.4" rx="4" fill="#fff" opacity="0.95"/>
<rect x="696.0" y="1849.0" width="36.0" height="10.4" rx="4" fill="#fff" opacity="0.85"/>
</g>
<g filter="url(#b2)">
<rect x="804.6" y="1817.6" width="44.0" height="19.6" rx="8" fill="#fff" opacity="0.35"/>
<rect x="807.6" y="1820.6" width="38.0" height="13.6" rx="6" fill="#fff"/>
</g>
</g>
</g>
<g id="panel-d">
<text x="8.3" y="2041.5" font-size="85" textLength="43.4" lengthAdjust="spacingAndGlyphs" class="se" fill="#000">d</text>
<text x="24.3" y="2165.5" font-size="53" textLength="200.9" lengthAdjust="spacing" stroke-width="1.3" fill="#000">693 bp-</text>
<text x="24.3" y="2314.0" font-size="53" textLength="200.9" lengthAdjust="spacing" stroke-width="1.3" fill="#000">693 bp-</text>
<text x="25.8" y="2426.8" font-size="53" textLength="200.4" lengthAdjust="spacing" stroke-width="1.3" fill="#000">693 bp-</text>
<text x="25.8" y="2563.0" font-size="53" textLength="200.4" lengthAdjust="spacing" stroke-width="1.3" fill="#000">693 bp-</text>
<text x="23.3" y="2696.4" font-size="53" textLength="200.9" lengthAdjust="spacing" stroke-width="1.3" fill="#000">693 bp-</text>
<text x="20.6" y="2867.6" font-size="53" textLength="200.6" lengthAdjust="spacing" stroke-width="1.3" fill="#000">693 bp-</text>
<text x="558.9" y="2088.0" font-size="52" textLength="63.2" lengthAdjust="spacingAndGlyphs" stroke-width="2.0" fill="#000">T1</text>
<text x="901.9" y="2099.0" font-size="52" textLength="133.2" lengthAdjust="spacingAndGlyphs" stroke-width="2.0" fill="#000">8K M</text>
<text x="1312.9" y="2090.0" font-size="52" textLength="63.2" lengthAdjust="spacingAndGlyphs" stroke-width="2.0" fill="#000">T1</text>
<path d="M236.0 2101.0H864.5V2097.0L887.5 2104.0L864.5 2111.0V2107.0H236.0Z" fill="#0a0000"/>
<path d="M1038.0 2101.0H1667.5V2097.0L1690.5 2104.0L1667.5 2111.0V2107.0H1038.0Z" fill="#0a0000"/>
<text x="561.9" y="2768.6" font-size="52" textLength="63.2" lengthAdjust="spacingAndGlyphs" stroke-width="2.0" fill="#000">T1</text>
<text x="1210.4" y="2768.6" font-size="52" textLength="62.2" lengthAdjust="spacingAndGlyphs" stroke-width="2.0" fill="#000">T1</text>
<text x="1500.0" y="2777.0" font-size="52" textLength="87.7" lengthAdjust="spacingAndGlyphs" stroke-width="2.0" fill="#000">WT</text>
<path d="M238.0 2770.7H867.0V2766.7L890.0 2773.7L867.0 2780.7V2776.7H238.0Z" fill="#0a0000"/>
<path d="M996.0 2772.3H1463.0V2768.5L1480.0 2775.3L1463.0 2782.1V2778.3H996.0Z" fill="#0a0000"/>
<rect x="1699.3" y="2104.5" width="7.6" height="771.5" fill="#0a0000"/>
<text x="1714.6" y="2503.7" font-size="57" textLength="67.8" lengthAdjust="spacingAndGlyphs" font-style="italic" fill="#000">ipt</text>
<text x="1796.3" y="2503.7" font-size="57" textLength="200.8" lengthAdjust="spacing" fill="#000">(65.9%)</text>
<clipPath id="c226_2119"><rect x="226.2" y="2119.0" width="1462.8" height="89.5"/></clipPath>
<rect x="226.2" y="2119.0" width="1462.8" height="89.5" fill="#242424"/>
<g clip-path="url(#c226_2119)">
<g filter="url(#bs)">
<rect x="870.0" y="2109.0" width="38.0" height="109.5" fill="#fff" opacity="0.06"/>
<rect x="1457.7" y="2109.0" width="38.0" height="109.5" fill="#fff" opacity="0.08"/>
<rect x="1642.0" y="2109.0" width="38.0" height="109.5" fill="#fff" opacity="0.05"/>
</g>
<circle cx="1581" cy="2183" r="2.4" fill="#fff" opacity="0.28"/>
<circle cx="771" cy="2154" r="2.6" fill="#fff" opacity="0.42"/>
<circle cx="754" cy="2157" r="1.4" fill="#fff" opacity="0.17"/>
<circle cx="375" cy="2194" r="1.5" fill="#fff" opacity="0.57"/>
<circle cx="591" cy="2143" r="1.8" fill="#fff" opacity="0.24"/>
<circle cx="772" cy="2205" r="2.4" fill="#fff" opacity="0.52"/>
<g filter="url(#b1)">
<rect x="233.3" y="2148.8" width="34.0" height="10.2" rx="3" fill="#fff" opacity="0.74"/>
<rect x="293.6" y="2149.0" width="34.0" height="9.8" rx="3" fill="#fff" opacity="0.64"/>
<rect x="353.9" y="2150.3" width="34.0" height="10.0" rx="3" fill="#fff" opacity="0.69"/>
<rect x="410.9" y="2150.8" width="34.0" height="9.0" rx="3" fill="#fff" opacity="0.46"/>
<rect x="469.8" y="2153.3" width="34.0" height="9.4" rx="3" fill="#fff" opacity="0.55"/>
<rect x="524.8" y="2156.8" width="34.0" height="7.6" rx="3" fill="#fff" opacity="0.14"/>
<rect x="583.8" y="2157.3" width="34.0" height="9.4" rx="3" fill="#fff" opacity="0.55"/>
<rect x="642.1" y="2159.6" width="34.0" height="10.2" rx="3" fill="#fff" opacity="0.74"/>
<rect x="699.0" y="2162.3" width="34.0" height="10.0" rx="3" fill="#fff" opacity="0.69"/>
<rect x="756.0" y="2163.8" width="34.0" height="9.8" rx="3" fill="#fff" opacity="0.64"/>
<rect x="813.0" y="2163.8" width="34.0" height="9.8" rx="3" fill="#fff" opacity="0.64"/>
<rect x="872.0" y="2175.3" width="34.0" height="10.8" rx="3" fill="#fff" opacity="0.87"/>
<rect x="983.9" y="2171.5" width="34.0" height="7.8" rx="3" fill="#fff" opacity="0.18"/>
<rect x="1221.8" y="2174.9" width="34.0" height="9.0" rx="3" fill="#fff" opacity="0.46"/>
<rect x="1339.1" y="2189.8" width="34.0" height="8.6" rx="3" fill="#fff" opacity="0.37"/>
<rect x="1399.4" y="2186.4" width="34.0" height="8.8" rx="3" fill="#fff" opacity="0.41"/>
<rect x="1459.7" y="2191.8" width="34.0" height="8.8" rx="3" fill="#fff" opacity="0.41"/>
<rect x="1518.0" y="2188.9" width="34.0" height="7.8" rx="3" fill="#fff" opacity="0.18"/>
<rect x="1644.0" y="2184.6" width="34.0" height="9.8" rx="3" fill="#fff" opacity="0.64"/>
<rect x="927.3" y="2130.6" width="36.0" height="10.4" rx="4" fill="#fff" opacity="0.95"/>
<rect x="927.3" y="2160.1" width="36.0" height="10.4" rx="4" fill="#fff" opacity="0.95"/>
<rect x="927.3" y="2197.7" width="36.0" height="10.4" rx="4" fill="#fff" opacity="0.80"/>
</g>
<g filter="url(#b2)">
<rect x="1102.0" y="2171.5" width="43.0" height="18.4" rx="8" fill="#fff" opacity="0.35"/>
<rect x="1105.0" y="2174.5" width="37.0" height="12.4" rx="6" fill="#fff"/>
<rect x="1160.3" y="2171.5" width="43.0" height="18.4" rx="8" fill="#fff" opacity="0.35"/>
<rect x="1163.3" y="2174.5" width="37.0" height="12.4" rx="6" fill="#fff"/>
</g>
</g>
<clipPath id="c226_2225"><rect x="226.2" y="2225.0" width="1462.8" height="109.5"/></clipPath>
<rect x="226.2" y="2225.0" width="1462.8" height="109.5" fill="#2b2b2b"/>
<g clip-path="url(#c226_2225)">
<g filter="url(#bs)">
<rect x="650.1" y="2215.0" width="38.0" height="129.5" fill="#fff" opacity="0.06"/>
<rect x="824.4" y="2215.0" width="38.0" height="129.5" fill="#fff" opacity="0.05"/>
<rect x="1000.0" y="2215.0" width="38.0" height="129.5" fill="#fff" opacity="0.04"/>
<rect x="1176.2" y="2215.0" width="38.0" height="129.5" fill="#fff" opacity="0.05"/>
</g>
<circle cx="1149" cy="2325" r="2.5" fill="#fff" opacity="0.40"/>
<circle cx="1279" cy="2230" r="2.2" fill="#fff" opacity="0.35"/>
<circle cx="1327" cy="2296" r="1.5" fill="#fff" opacity="0.17"/>
<circle cx="1582" cy="2239" r="1.8" fill="#fff" opacity="0.30"/>
<circle cx="662" cy="2306" r="2.6" fill="#fff" opacity="0.27"/>
<circle cx="1186" cy="2258" r="1.9" fill="#fff" opacity="0.33"/>
<circle cx="471" cy="2243" r="1.3" fill="#fff" opacity="0.56"/>
<circle cx="953" cy="2249" r="2.5" fill="#fff" opacity="0.60"/>
<circle cx="884" cy="2240" r="1.3" fill="#fff" opacity="0.19"/>
<circle cx="726" cy="2235" r="1.4" fill="#fff" opacity="0.27"/>
<g filter="url(#b1)">
<rect x="236.6" y="2294.0" width="34.0" height="8.0" rx="3" fill="#fff" opacity="0.23"/>
<rect x="298.3" y="2290.5" width="34.0" height="8.4" rx="3" fill="#fff" opacity="0.32"/>
<rect x="358.6" y="2286.0" width="34.0" height="10.6" rx="3" fill="#fff" opacity="0.83"/>
<rect x="414.2" y="2291.7" width="34.0" height="8.6" rx="3" fill="#fff" opacity="0.37"/>
<rect x="474.5" y="2291.6" width="34.0" height="8.8" rx="3" fill="#fff" opacity="0.41"/>
<rect x="531.5" y="2290.1" width="34.0" height="9.2" rx="3" fill="#fff" opacity="0.51"/>
<rect x="652.1" y="2293.7" width="34.0" height="8.6" rx="3" fill="#fff" opacity="0.37"/>
<rect x="709.1" y="2290.6" width="34.0" height="8.2" rx="3" fill="#fff" opacity="0.28"/>
<rect x="1002.0" y="2285.7" width="34.0" height="8.6" rx="3" fill="#fff" opacity="0.37"/>
<rect x="1061.0" y="2273.4" width="34.0" height="9.0" rx="3" fill="#fff" opacity="0.46"/>
<rect x="1119.9" y="2278.3" width="34.0" height="8.6" rx="3" fill="#fff" opacity="0.37"/>
<rect x="1178.2" y="2293.9" width="34.0" height="8.2" rx="3" fill="#fff" opacity="0.28"/>
<rect x="1352.5" y="2277.9" width="34.0" height="9.4" rx="3" fill="#fff" opacity="0.55"/>
<rect x="1412.8" y="2272.9" width="34.0" height="10.0" rx="3" fill="#fff" opacity="0.69"/>
<rect x="1530.1" y="2265.4" width="34.0" height="9.0" rx="3" fill="#fff" opacity="0.46"/>
<rect x="1587.1" y="2268.0" width="34.0" height="9.2" rx="3" fill="#fff" opacity="0.51"/>
<rect x="1644.0" y="2263.8" width="34.0" height="8.2" rx="3" fill="#fff" opacity="0.28"/>
<rect x="942.7" y="2245.9" width="36.0" height="10.4" rx="4" fill="#fff" opacity="0.70"/>
<rect x="942.7" y="2270.7" width="36.0" height="10.4" rx="4" fill="#fff" opacity="0.90"/>
<rect x="942.7" y="2308.2" width="36.0" height="10.4" rx="4" fill="#fff" opacity="0.70"/>
</g>
<g filter="url(#b2)">
<rect x="820.4" y="2287.0" width="46.0" height="22.0" rx="8" fill="#fff" opacity="0.35"/>
<rect x="823.4" y="2290.0" width="40.0" height="16.0" rx="6" fill="#fff"/>
</g>
</g>
<clipPath id="c226_2355"><rect x="226.2" y="2355.3" width="1462.8" height="114.7"/></clipPath>
<rect x="226.2" y="2355.3" width="1462.8" height="114.7" fill="#2b2b2b"/>
<g clip-path="url(#c226_2355)">
<g filter="url(#bs)">
<rect x="365.3" y="2345.3" width="38.0" height="134.7" fill="#fff" opacity="0.07"/>
<rect x="479.2" y="2345.3" width="38.0" height="134.7" fill="#fff" opacity="0.05"/>
<rect x="539.6" y="2345.3" width="38.0" height="134.7" fill="#fff" opacity="0.05"/>
<rect x="653.5" y="2345.3" width="38.0" height="134.7" fill="#fff" opacity="0.05"/>
<rect x="1225.2" y="2345.3" width="38.0" height="134.7" fill="#fff" opacity="0.06"/>
<rect x="1168.2" y="2345.3" width="38.0" height="134.7" fill="#fff" opacity="0.05"/>
</g>
<circle cx="1059" cy="2457" r="2.2" fill="#fff" opacity="0.34"/>
<circle cx="832" cy="2415" r="1.6" fill="#fff" opacity="0.30"/>
<circle cx="317" cy="2387" r="2.5" fill="#fff" opacity="0.21"/>
<circle cx="963" cy="2428" r="2.4" fill="#fff" opacity="0.25"/>
<circle cx="623" cy="2384" r="1.6" fill="#fff" opacity="0.35"/>
<circle cx="1622" cy="2453" r="2.4" fill="#fff" opacity="0.16"/>
<circle cx="273" cy="2437" r="2.4" fill="#fff" opacity="0.36"/>
<circle cx="1085" cy="2355" r="1.6" fill="#fff" opacity="0.57"/>
<circle cx="1434" cy="2453" r="2.6" fill="#fff" opacity="0.26"/>
<circle cx="386" cy="2373" r="1.8" fill="#fff" opacity="0.46"/>
<g filter="url(#b1)">
<rect x="250.0" y="2438.7" width="34.0" height="10.4" rx="3" fill="#fff" opacity="0.78"/>
<rect x="310.3" y="2440.0" width="34.0" height="7.8" rx="3" fill="#fff" opacity="0.18"/>
<rect x="481.2" y="2440.9" width="34.0" height="8.6" rx="3" fill="#fff" opacity="0.37"/>
<rect x="541.6" y="2421.8" width="34.0" height="10.6" rx="3" fill="#fff" opacity="0.83"/>
<rect x="655.5" y="2418.9" width="34.0" height="9.8" rx="3" fill="#fff" opacity="0.64"/>
<rect x="712.5" y="2416.1" width="34.0" height="8.6" rx="3" fill="#fff" opacity="0.37"/>
<rect x="997.3" y="2415.9" width="34.0" height="9.0" rx="3" fill="#fff" opacity="0.46"/>
<rect x="1054.3" y="2412.2" width="34.0" height="9.8" rx="3" fill="#fff" opacity="0.64"/>
<rect x="1111.2" y="2416.4" width="34.0" height="8.0" rx="3" fill="#fff" opacity="0.23"/>
<rect x="1227.2" y="2422.3" width="34.0" height="9.6" rx="3" fill="#fff" opacity="0.60"/>
<rect x="1285.5" y="2423.0" width="34.0" height="8.2" rx="3" fill="#fff" opacity="0.28"/>
<rect x="1342.4" y="2420.6" width="34.0" height="9.0" rx="3" fill="#fff" opacity="0.46"/>
<rect x="1399.4" y="2420.5" width="34.0" height="9.2" rx="3" fill="#fff" opacity="0.51"/>
<rect x="1456.4" y="2432.8" width="34.0" height="8.8" rx="3" fill="#fff" opacity="0.41"/>
<rect x="1513.3" y="2431.7" width="34.0" height="8.2" rx="3" fill="#fff" opacity="0.28"/>
<rect x="1570.3" y="2422.7" width="34.0" height="8.8" rx="3" fill="#fff" opacity="0.41"/>
<rect x="1630.6" y="2429.3" width="34.0" height="9.0" rx="3" fill="#fff" opacity="0.46"/>
<rect x="937.3" y="2378.4" width="36.0" height="10.4" rx="4" fill="#fff" opacity="0.70"/>
<rect x="937.3" y="2405.2" width="36.0" height="10.4" rx="4" fill="#fff" opacity="0.95"/>
<rect x="937.3" y="2442.0" width="36.0" height="10.4" rx="4" fill="#fff" opacity="0.75"/>
</g>
<g filter="url(#b2)">
<rect x="1164.7" y="2416.7" width="45.0" height="20.8" rx="8" fill="#fff" opacity="0.35"/>
<rect x="1167.7" y="2419.7" width="39.0" height="14.8" rx="6" fill="#fff"/>
</g>
</g>
<clipPath id="c226_2492"><rect x="226.2" y="2492.0" width="1462.8" height="111.8"/></clipPath>
<rect x="226.2" y="2492.0" width="1462.8" height="111.8" fill="#2b2b2b"/>
<g clip-path="url(#c226_2492)">
<g filter="url(#bs)">
<rect x="306.3" y="2482.0" width="38.0" height="131.8" fill="#fff" opacity="0.06"/>
<rect x="362.0" y="2482.0" width="38.0" height="131.8" fill="#fff" opacity="0.05"/>
<rect x="650.1" y="2482.0" width="38.0" height="131.8" fill="#fff" opacity="0.05"/>
<rect x="821.0" y="2482.0" width="38.0" height="131.8" fill="#fff" opacity="0.05"/>
<rect x="1397.4" y="2482.0" width="38.0" height="131.8" fill="#fff" opacity="0.07"/>
</g>
<circle cx="1603" cy="2573" r="2.0" fill="#fff" opacity="0.49"/>
<circle cx="895" cy="2554" r="1.1" fill="#fff" opacity="0.50"/>
<circle cx="566" cy="2595" r="2.0" fill="#fff" opacity="0.29"/>
<circle cx="413" cy="2520" r="2.0" fill="#fff" opacity="0.46"/>
<circle cx="390" cy="2500" r="1.8" fill="#fff" opacity="0.41"/>
<circle cx="794" cy="2517" r="2.0" fill="#fff" opacity="0.15"/>
<circle cx="667" cy="2544" r="2.5" fill="#fff" opacity="0.44"/>
<circle cx="1519" cy="2545" r="1.4" fill="#fff" opacity="0.26"/>
<circle cx="1631" cy="2571" r="1.5" fill="#fff" opacity="0.16"/>
<circle cx="955" cy="2567" r="1.7" fill="#fff" opacity="0.27"/>
<circle cx="1202" cy="2595" r="1.4" fill="#fff" opacity="0.17"/>
<circle cx="721" cy="2539" r="2.1" fill="#fff" opacity="0.24"/>
<circle cx="1392" cy="2575" r="1.8" fill="#fff" opacity="0.24"/>
<circle cx="1645" cy="2527" r="2.3" fill="#fff" opacity="0.25"/>
<g filter="url(#b1)">
<rect x="250.0" y="2551.4" width="34.0" height="8.8" rx="3" fill="#fff" opacity="0.41"/>
<rect x="308.3" y="2563.6" width="34.0" height="8.6" rx="3" fill="#fff" opacity="0.37"/>
<rect x="364.0" y="2560.2" width="34.0" height="8.6" rx="3" fill="#fff" opacity="0.37"/>
<rect x="420.9" y="2547.9" width="34.0" height="10.4" rx="3" fill="#fff" opacity="0.78"/>
<rect x="477.9" y="2549.1" width="34.0" height="8.0" rx="3" fill="#fff" opacity="0.23"/>
<rect x="534.9" y="2549.1" width="34.0" height="8.0" rx="3" fill="#fff" opacity="0.23"/>
<rect x="593.2" y="2543.4" width="34.0" height="8.8" rx="3" fill="#fff" opacity="0.41"/>
<rect x="652.1" y="2557.3" width="34.0" height="7.8" rx="3" fill="#fff" opacity="0.18"/>
<rect x="710.4" y="2534.8" width="34.0" height="8.4" rx="3" fill="#fff" opacity="0.32"/>
<rect x="767.4" y="2549.2" width="34.0" height="10.6" rx="3" fill="#fff" opacity="0.83"/>
<rect x="823.0" y="2552.0" width="34.0" height="7.6" rx="3" fill="#fff" opacity="0.14"/>
<rect x="883.4" y="2548.7" width="34.0" height="8.8" rx="3" fill="#fff" opacity="0.41"/>
<rect x="1054.3" y="2541.6" width="34.0" height="8.2" rx="3" fill="#fff" opacity="0.28"/>
<rect x="1170.2" y="2534.6" width="34.0" height="10.2" rx="3" fill="#fff" opacity="0.74"/>
<rect x="1285.5" y="2537.9" width="34.0" height="9.0" rx="3" fill="#fff" opacity="0.46"/>
<rect x="1342.4" y="2538.3" width="34.0" height="8.2" rx="3" fill="#fff" opacity="0.28"/>
<rect x="1399.4" y="2550.7" width="34.0" height="7.6" rx="3" fill="#fff" opacity="0.14"/>
<rect x="1456.4" y="2541.4" width="34.0" height="8.6" rx="3" fill="#fff" opacity="0.37"/>
<rect x="1513.3" y="2537.2" width="34.0" height="7.8" rx="3" fill="#fff" opacity="0.18"/>
<rect x="1570.3" y="2536.5" width="34.0" height="9.2" rx="3" fill="#fff" opacity="0.51"/>
<rect x="1630.6" y="2534.9" width="34.0" height="9.6" rx="3" fill="#fff" opacity="0.60"/>
<rect x="937.3" y="2512.4" width="36.0" height="10.4" rx="4" fill="#fff" opacity="0.70"/>
<rect x="937.3" y="2535.9" width="36.0" height="10.4" rx="4" fill="#fff" opacity="0.95"/>
<rect x="937.3" y="2570.7" width="36.0" height="10.4" rx="4" fill="#fff" opacity="0.70"/>
</g>
<g filter="url(#b2)">
</g>
</g>
<clipPath id="c226_2625"><rect x="226.2" y="2625.3" width="1462.8" height="97.2"/></clipPath>
<rect x="226.2" y="2625.3" width="1462.8" height="97.2" fill="#232323"/>
<g clip-path="url(#c226_2625)">
<circle cx="550" cy="2699" r="1.5" fill="#fff" opacity="0.58"/>
<circle cx="951" cy="2644" r="1.4" fill="#fff" opacity="0.34"/>
<circle cx="1199" cy="2718" r="1.2" fill="#fff" opacity="0.33"/>
<circle cx="538" cy="2720" r="1.2" fill="#fff" opacity="0.17"/>
<circle cx="314" cy="2664" r="2.4" fill="#fff" opacity="0.55"/>
<circle cx="1298" cy="2722" r="2.5" fill="#fff" opacity="0.30"/>
<g filter="url(#b1)">
<rect x="250.0" y="2688.1" width="34.0" height="7.5" rx="3" fill="#fff" opacity="0.11"/>
<rect x="374.0" y="2687.6" width="34.0" height="8.6" rx="3" fill="#fff" opacity="0.37"/>
<rect x="431.0" y="2684.9" width="34.0" height="9.8" rx="3" fill="#fff" opacity="0.64"/>
<rect x="534.9" y="2684.8" width="34.0" height="7.4" rx="3" fill="#fff" opacity="0.09"/>
<rect x="657.5" y="2680.0" width="34.0" height="10.2" rx="3" fill="#fff" opacity="0.74"/>
<rect x="712.5" y="2684.5" width="34.0" height="8.0" rx="3" fill="#fff" opacity="0.23"/>
<rect x="826.4" y="2674.3" width="34.0" height="8.2" rx="3" fill="#fff" opacity="0.28"/>
<rect x="883.4" y="2676.4" width="34.0" height="8.2" rx="3" fill="#fff" opacity="0.28"/>
<rect x="997.3" y="2673.0" width="34.0" height="8.2" rx="3" fill="#fff" opacity="0.28"/>
<rect x="1054.3" y="2668.0" width="34.0" height="7.4" rx="3" fill="#fff" opacity="0.09"/>
<rect x="1170.2" y="2678.0" width="34.0" height="7.6" rx="3" fill="#fff" opacity="0.14"/>
<rect x="1227.2" y="2665.5" width="34.0" height="8.4" rx="3" fill="#fff" opacity="0.32"/>
<rect x="1285.5" y="2667.6" width="34.0" height="8.2" rx="3" fill="#fff" opacity="0.28"/>
<rect x="1342.4" y="2664.1" width="34.0" height="8.6" rx="3" fill="#fff" opacity="0.37"/>
<rect x="1399.4" y="2666.2" width="34.0" height="8.4" rx="3" fill="#fff" opacity="0.32"/>
<rect x="1456.4" y="2665.4" width="34.0" height="8.6" rx="3" fill="#fff" opacity="0.37"/>
<rect x="1567.0" y="2670.4" width="34.0" height="9.4" rx="3" fill="#fff" opacity="0.55"/>
<rect x="937.3" y="2636.4" width="36.0" height="10.4" rx="4" fill="#fff" opacity="0.70"/>
<rect x="937.3" y="2664.5" width="36.0" height="10.4" rx="4" fill="#fff" opacity="0.95"/>
<rect x="937.3" y="2702.1" width="36.0" height="10.4" rx="4" fill="#fff" opacity="0.70"/>
</g>
<g filter="url(#b2)">
<rect x="594.4" y="2676.8" width="45.0" height="20.8" rx="8" fill="#fff" opacity="0.35"/>
<rect x="597.4" y="2679.8" width="39.0" height="14.8" rx="6" fill="#fff"/>
</g>
</g>
<clipPath id="c226_2785"><rect x="226.2" y="2785.0" width="1462.8" height="99.5"/></clipPath>
<rect x="226.2" y="2785.0" width="1462.8" height="99.5" fill="#252525"/>
<g clip-path="url(#c226_2785)">
<g filter="url(#bs)">
<rect x="1055.6" y="2775.0" width="38.0" height="119.5" fill="#fff" opacity="0.06"/>
<rect x="1229.9" y="2775.0" width="38.0" height="119.5" fill="#fff" opacity="0.07"/>
</g>
<circle cx="498" cy="2878" r="2.2" fill="#fff" opacity="0.16"/>
<circle cx="1198" cy="2823" r="1.6" fill="#fff" opacity="0.30"/>
<circle cx="474" cy="2785" r="1.4" fill="#fff" opacity="0.31"/>
<circle cx="1624" cy="2797" r="2.5" fill="#fff" opacity="0.24"/>
<g filter="url(#b1)">
<rect x="253.4" y="2847.0" width="34.0" height="8.6" rx="3" fill="#fff" opacity="0.37"/>
<rect x="310.3" y="2844.9" width="34.0" height="8.8" rx="3" fill="#fff" opacity="0.41"/>
<rect x="367.3" y="2849.5" width="34.0" height="7.6" rx="3" fill="#fff" opacity="0.14"/>
<rect x="424.3" y="2851.0" width="34.0" height="7.4" rx="3" fill="#fff" opacity="0.09"/>
<rect x="652.1" y="2847.6" width="34.0" height="7.4" rx="3" fill="#fff" opacity="0.09"/>
<rect x="712.5" y="2839.0" width="34.0" height="8.6" rx="3" fill="#fff" opacity="0.37"/>
<rect x="772.8" y="2831.9" width="34.0" height="9.4" rx="3" fill="#fff" opacity="0.55"/>
<rect x="826.4" y="2849.6" width="34.0" height="7.5" rx="3" fill="#fff" opacity="0.11"/>
<rect x="1057.6" y="2837.0" width="34.0" height="8.6" rx="3" fill="#fff" opacity="0.37"/>
<rect x="1231.9" y="2840.5" width="34.0" height="8.2" rx="3" fill="#fff" opacity="0.28"/>
<rect x="1288.8" y="2826.1" width="34.0" height="7.6" rx="3" fill="#fff" opacity="0.14"/>
<rect x="1349.1" y="2817.5" width="34.0" height="7.4" rx="3" fill="#fff" opacity="0.09"/>
<rect x="940.7" y="2792.5" width="36.0" height="10.4" rx="4" fill="#fff" opacity="0.85"/>
<rect x="940.7" y="2817.3" width="36.0" height="10.4" rx="4" fill="#fff" opacity="0.90"/>
<rect x="940.7" y="2852.8" width="36.0" height="10.4" rx="4" fill="#fff" opacity="0.85"/>
</g>
<g filter="url(#b2)">
<rect x="477.7" y="2838.9" width="45.0" height="20.8" rx="8" fill="#fff" opacity="0.35"/>
<rect x="480.7" y="2841.9" width="39.0" height="14.8" rx="6" fill="#fff"/>
</g>
</g>
</g>
<g id="panel-e">
<text x="2032.8" y="2041.5" font-size="85" textLength="35.9" lengthAdjust="spacingAndGlyphs" class="se" fill="#000">e</text>
<text x="2027.6" y="2159.7" font-size="52" textLength="200.5" lengthAdjust="spacing" stroke-width="1.2" fill="#000">693 bp-</text>
<text x="2027.6" y="2309.0" font-size="52" textLength="200.5" lengthAdjust="spacing" stroke-width="1.2" fill="#000">693 bp-</text>
<text x="2027.6" y="2422.0" font-size="52" textLength="200.5" lengthAdjust="spacing" stroke-width="1.2" fill="#000">693 bp-</text>
<text x="2027.6" y="2555.0" font-size="52" textLength="200.5" lengthAdjust="spacing" stroke-width="1.2" fill="#000">693 bp-</text>
<text x="2027.6" y="2688.0" font-size="52" textLength="200.5" lengthAdjust="spacing" stroke-width="1.2" fill="#000">693 bp-</text>
<text x="2027.6" y="2859.5" font-size="52" textLength="200.5" lengthAdjust="spacing" stroke-width="1.2" fill="#000">693 bp-</text>
<text x="2550.7" y="2079.0" font-size="52" textLength="61.4" lengthAdjust="spacingAndGlyphs" stroke-width="2.0" fill="#000">T1</text>
<text x="3270.5" y="2081.6" font-size="52" textLength="61.6" lengthAdjust="spacingAndGlyphs" stroke-width="2.0" fill="#000">T1</text>
<path d="M2260.0 2087.0H2887.0V2083.0L2910.0 2090.0L2887.0 2097.0V2093.0H2260.0Z" fill="#0a0000"/>
<path d="M3034.0 2089.0H3661.0V2085.0L3684.0 2092.0L3661.0 2099.0V2095.0H3034.0Z" fill="#0a0000"/>
<text x="2598.9" y="2768.8" font-size="52" textLength="60.2" lengthAdjust="spacingAndGlyphs" stroke-width="2.0" fill="#000">T1</text>
<text x="3238.6" y="2768.8" font-size="52" textLength="62.2" lengthAdjust="spacingAndGlyphs" stroke-width="2.0" fill="#000">T1</text>
<text x="3533.7" y="2777.0" font-size="52" textLength="85.8" lengthAdjust="spacingAndGlyphs" stroke-width="2.0" fill="#000">WT</text>
<path d="M2270.0 2771.0H2894.0V2767.0L2917.0 2774.0L2894.0 2781.0V2777.0H2270.0Z" fill="#0a0000"/>
<path d="M3027.6 2770.8H3494.5V2767.0L3511.5 2773.8L3494.5 2780.6V2776.8H3027.6Z" fill="#0a0000"/>
<rect x="3716.0" y="2089.0" width="8.0" height="773.0" fill="#0a0000"/>
<text x="3725.7" y="2481.0" font-size="55" textLength="67.2" lengthAdjust="spacingAndGlyphs" font-style="italic" fill="#000">ipt</text>
<text x="3806.7" y="2481.0" font-size="55" textLength="202.6" lengthAdjust="spacing" fill="#000">(50.4%)</text>
<clipPath id="c2245_2103"><rect x="2245.5" y="2103.5" width="1461.5" height="104.8"/></clipPath>
<rect x="2245.5" y="2103.5" width="1461.5" height="104.8" fill="#2d2d2d"/>
<g clip-path="url(#c2245_2103)">
<g filter="url(#bs)">
<rect x="3065.6" y="2093.5" width="38.0" height="124.8" fill="#fff" opacity="0.10"/>
</g>
<circle cx="2767" cy="2190" r="2.3" fill="#fff" opacity="0.34"/>
<circle cx="2317" cy="2153" r="1.6" fill="#fff" opacity="0.56"/>
<circle cx="2528" cy="2142" r="2.4" fill="#fff" opacity="0.16"/>
<circle cx="2846" cy="2189" r="2.2" fill="#fff" opacity="0.17"/>
<circle cx="2296" cy="2110" r="2.5" fill="#fff" opacity="0.27"/>
<circle cx="3338" cy="2198" r="1.5" fill="#fff" opacity="0.27"/>
<circle cx="3645" cy="2168" r="1.4" fill="#fff" opacity="0.47"/>
<circle cx="2708" cy="2132" r="1.0" fill="#fff" opacity="0.49"/>
<circle cx="3585" cy="2170" r="2.5" fill="#fff" opacity="0.16"/>
<circle cx="2587" cy="2153" r="2.5" fill="#fff" opacity="0.58"/>
<circle cx="2810" cy="2130" r="1.7" fill="#fff" opacity="0.37"/>
<circle cx="3602" cy="2123" r="2.3" fill="#fff" opacity="0.48"/>
<circle cx="3448" cy="2184" r="2.0" fill="#fff" opacity="0.30"/>
<circle cx="2713" cy="2141" r="2.3" fill="#fff" opacity="0.19"/>
<circle cx="2534" cy="2182" r="1.4" fill="#fff" opacity="0.18"/>
<circle cx="2295" cy="2161" r="1.5" fill="#fff" opacity="0.59"/>
<circle cx="3537" cy="2207" r="1.4" fill="#fff" opacity="0.19"/>
<circle cx="2386" cy="2156" r="2.1" fill="#fff" opacity="0.35"/>
<circle cx="2588" cy="2147" r="2.0" fill="#fff" opacity="0.45"/>
<circle cx="3339" cy="2192" r="2.1" fill="#fff" opacity="0.20"/>
<circle cx="3474" cy="2134" r="1.9" fill="#fff" opacity="0.32"/>
<circle cx="3324" cy="2124" r="1.4" fill="#fff" opacity="0.26"/>
<circle cx="2470" cy="2196" r="1.9" fill="#fff" opacity="0.30"/>
<circle cx="2824" cy="2208" r="1.8" fill="#fff" opacity="0.25"/>
<circle cx="3427" cy="2172" r="2.6" fill="#fff" opacity="0.20"/>
<circle cx="2939" cy="2189" r="2.3" fill="#fff" opacity="0.56"/>
<circle cx="2304" cy="2134" r="1.2" fill="#fff" opacity="0.24"/>
<circle cx="3667" cy="2165" r="2.5" fill="#fff" opacity="0.32"/>
<circle cx="3511" cy="2151" r="1.4" fill="#fff" opacity="0.50"/>
<circle cx="3628" cy="2115" r="2.0" fill="#fff" opacity="0.43"/>
<circle cx="2564" cy="2142" r="1.2" fill="#fff" opacity="0.24"/>
<circle cx="2618" cy="2166" r="2.0" fill="#fff" opacity="0.24"/>
<circle cx="2262" cy="2138" r="2.1" fill="#fff" opacity="0.23"/>
<circle cx="2702" cy="2125" r="2.3" fill="#fff" opacity="0.40"/>
<circle cx="2338" cy="2114" r="1.6" fill="#fff" opacity="0.40"/>
<circle cx="3180" cy="2113" r="1.3" fill="#fff" opacity="0.46"/>
<circle cx="2844" cy="2133" r="1.5" fill="#fff" opacity="0.58"/>
<circle cx="2702" cy="2163" r="1.6" fill="#fff" opacity="0.34"/>
<circle cx="3509" cy="2208" r="1.6" fill="#fff" opacity="0.24"/>
<circle cx="3310" cy="2125" r="1.0" fill="#fff" opacity="0.56"/>
<circle cx="2865" cy="2189" r="1.6" fill="#fff" opacity="0.55"/>
<circle cx="2919" cy="2121" r="1.0" fill="#fff" opacity="0.40"/>
<circle cx="3182" cy="2199" r="1.1" fill="#fff" opacity="0.43"/>
<circle cx="2787" cy="2156" r="1.2" fill="#fff" opacity="0.28"/>
<circle cx="3007" cy="2200" r="1.2" fill="#fff" opacity="0.37"/>
<circle cx="3422" cy="2205" r="1.3" fill="#fff" opacity="0.21"/>
<circle cx="3624" cy="2206" r="1.8" fill="#fff" opacity="0.17"/>
<circle cx="3599" cy="2144" r="2.4" fill="#fff" opacity="0.43"/>
<circle cx="3451" cy="2120" r="2.3" fill="#fff" opacity="0.25"/>
<circle cx="2837" cy="2192" r="2.3" fill="#fff" opacity="0.23"/>
<circle cx="2564" cy="2145" r="1.8" fill="#fff" opacity="0.32"/>
<circle cx="2425" cy="2129" r="2.2" fill="#fff" opacity="0.55"/>
<circle cx="2306" cy="2162" r="2.2" fill="#fff" opacity="0.17"/>
<circle cx="3471" cy="2116" r="2.0" fill="#fff" opacity="0.40"/>
<circle cx="3162" cy="2136" r="1.7" fill="#fff" opacity="0.41"/>
<circle cx="2868" cy="2173" r="1.7" fill="#fff" opacity="0.35"/>
<circle cx="2280" cy="2168" r="1.8" fill="#fff" opacity="0.26"/>
<circle cx="3361" cy="2185" r="1.7" fill="#fff" opacity="0.23"/>
<circle cx="2937" cy="2115" r="1.2" fill="#fff" opacity="0.34"/>
<circle cx="2380" cy="2150" r="1.8" fill="#fff" opacity="0.17"/>
<circle cx="3176" cy="2112" r="2.2" fill="#fff" opacity="0.50"/>
<circle cx="2993" cy="2109" r="1.8" fill="#fff" opacity="0.32"/>
<circle cx="3635" cy="2118" r="2.4" fill="#fff" opacity="0.60"/>
<circle cx="3315" cy="2189" r="1.3" fill="#fff" opacity="0.59"/>
<circle cx="2964" cy="2204" r="2.5" fill="#fff" opacity="0.22"/>
<circle cx="3398" cy="2201" r="1.1" fill="#fff" opacity="0.31"/>
<circle cx="3351" cy="2120" r="2.4" fill="#fff" opacity="0.27"/>
<circle cx="3438" cy="2119" r="1.8" fill="#fff" opacity="0.56"/>
<circle cx="2550" cy="2131" r="1.8" fill="#fff" opacity="0.29"/>
<circle cx="2299" cy="2123" r="1.3" fill="#fff" opacity="0.57"/>
<circle cx="3239" cy="2197" r="1.3" fill="#fff" opacity="0.50"/>
<circle cx="2414" cy="2159" r="2.0" fill="#fff" opacity="0.31"/>
<circle cx="3521" cy="2162" r="1.9" fill="#fff" opacity="0.55"/>
<circle cx="2398" cy="2208" r="2.0" fill="#fff" opacity="0.33"/>
<circle cx="3411" cy="2131" r="2.6" fill="#fff" opacity="0.41"/>
<circle cx="2772" cy="2184" r="1.7" fill="#fff" opacity="0.23"/>
<circle cx="3332" cy="2109" r="2.3" fill="#fff" opacity="0.26"/>
<circle cx="3180" cy="2207" r="1.9" fill="#fff" opacity="0.45"/>
<circle cx="2702" cy="2104" r="1.1" fill="#fff" opacity="0.22"/>
<circle cx="3146" cy="2149" r="1.8" fill="#fff" opacity="0.55"/>
<circle cx="2438" cy="2127" r="2.0" fill="#fff" opacity="0.16"/>
<circle cx="2249" cy="2141" r="1.2" fill="#fff" opacity="0.31"/>
<circle cx="2573" cy="2165" r="1.9" fill="#fff" opacity="0.24"/>
<circle cx="3157" cy="2153" r="1.2" fill="#fff" opacity="0.57"/>
<circle cx="2602" cy="2119" r="1.2" fill="#fff" opacity="0.44"/>
<circle cx="3519" cy="2185" r="1.6" fill="#fff" opacity="0.27"/>
<circle cx="2262" cy="2171" r="1.9" fill="#fff" opacity="0.31"/>
<circle cx="3189" cy="2150" r="2.5" fill="#fff" opacity="0.48"/>
<circle cx="2609" cy="2198" r="1.1" fill="#fff" opacity="0.39"/>
<circle cx="2839" cy="2128" r="1.1" fill="#fff" opacity="0.50"/>
<g filter="url(#b1)">
<rect x="2256.6" y="2157.4" width="34.0" height="9.2" rx="3" fill="#fff" opacity="0.51"/>
<rect x="2370.5" y="2156.1" width="34.0" height="9.0" rx="3" fill="#fff" opacity="0.46"/>
<rect x="2430.9" y="2150.9" width="34.0" height="8.8" rx="3" fill="#fff" opacity="0.41"/>
<rect x="2605.1" y="2143.5" width="34.0" height="7.5" rx="3" fill="#fff" opacity="0.11"/>
<rect x="2719.0" y="2150.1" width="34.0" height="7.6" rx="3" fill="#fff" opacity="0.14"/>
<rect x="2776.0" y="2150.2" width="34.0" height="10.2" rx="3" fill="#fff" opacity="0.74"/>
<rect x="2833.0" y="2150.8" width="34.0" height="9.0" rx="3" fill="#fff" opacity="0.46"/>
<rect x="2893.3" y="2162.6" width="34.0" height="9.4" rx="3" fill="#fff" opacity="0.55"/>
<rect x="3127.9" y="2161.6" width="34.0" height="8.8" rx="3" fill="#fff" opacity="0.41"/>
<rect x="3186.8" y="2162.5" width="34.0" height="9.6" rx="3" fill="#fff" opacity="0.60"/>
<rect x="3305.5" y="2169.2" width="34.0" height="9.6" rx="3" fill="#fff" opacity="0.60"/>
<rect x="3419.4" y="2180.7" width="34.0" height="9.4" rx="3" fill="#fff" opacity="0.55"/>
<rect x="3476.4" y="2188.3" width="34.0" height="9.0" rx="3" fill="#fff" opacity="0.46"/>
<rect x="3516.6" y="2188.7" width="34.0" height="8.2" rx="3" fill="#fff" opacity="0.28"/>
<rect x="3597.0" y="2185.9" width="34.0" height="9.8" rx="3" fill="#fff" opacity="0.64"/>
<rect x="2952.6" y="2116.6" width="36.0" height="10.4" rx="4" fill="#fff" opacity="0.95"/>
<rect x="2952.6" y="2148.7" width="36.0" height="10.4" rx="4" fill="#fff" opacity="0.95"/>
<rect x="2952.6" y="2188.9" width="36.0" height="10.4" rx="4" fill="#fff" opacity="0.90"/>
</g>
<g filter="url(#b2)">
<rect x="2308.6" y="2149.5" width="44.0" height="19.6" rx="8" fill="#fff" opacity="0.35"/>
<rect x="2311.6" y="2152.5" width="38.0" height="13.6" rx="6" fill="#fff"/>
<rect x="3006.1" y="2156.1" width="43.0" height="18.4" rx="8" fill="#fff" opacity="0.35"/>
<rect x="3009.1" y="2159.1" width="37.0" height="12.4" rx="6" fill="#fff"/>
<rect x="3357.9" y="2171.5" width="43.0" height="18.4" rx="8" fill="#fff" opacity="0.35"/>
<rect x="3360.9" y="2174.5" width="37.0" height="12.4" rx="6" fill="#fff"/>
</g>
</g>
<clipPath id="c2245_2225"><rect x="2245.5" y="2225.0" width="1461.5" height="103.8"/></clipPath>
<rect x="2245.5" y="2225.0" width="1461.5" height="103.8" fill="#262626"/>
<g clip-path="url(#c2245_2225)">
<g filter="url(#bs)">
<rect x="2254.6" y="2215.0" width="38.0" height="123.8" fill="#fff" opacity="0.06"/>
<rect x="2308.2" y="2215.0" width="38.0" height="123.8" fill="#fff" opacity="0.06"/>
<rect x="2656.7" y="2215.0" width="38.0" height="123.8" fill="#fff" opacity="0.05"/>
<rect x="2717.0" y="2215.0" width="38.0" height="123.8" fill="#fff" opacity="0.06"/>
</g>
<circle cx="2264" cy="2282" r="2.5" fill="#fff" opacity="0.21"/>
<circle cx="2537" cy="2288" r="1.8" fill="#fff" opacity="0.44"/>
<circle cx="3434" cy="2243" r="1.5" fill="#fff" opacity="0.29"/>
<circle cx="2316" cy="2317" r="2.3" fill="#fff" opacity="0.47"/>
<circle cx="2255" cy="2313" r="2.2" fill="#fff" opacity="0.36"/>
<circle cx="3330" cy="2272" r="1.4" fill="#fff" opacity="0.20"/>
<circle cx="2585" cy="2229" r="1.5" fill="#fff" opacity="0.49"/>
<circle cx="3261" cy="2313" r="2.1" fill="#fff" opacity="0.27"/>
<circle cx="3055" cy="2270" r="2.3" fill="#fff" opacity="0.39"/>
<circle cx="2633" cy="2292" r="2.5" fill="#fff" opacity="0.25"/>
<circle cx="3532" cy="2227" r="1.4" fill="#fff" opacity="0.26"/>
<circle cx="3333" cy="2323" r="2.2" fill="#fff" opacity="0.30"/>
<circle cx="3532" cy="2259" r="1.4" fill="#fff" opacity="0.56"/>
<circle cx="3167" cy="2297" r="2.1" fill="#fff" opacity="0.59"/>
<circle cx="2932" cy="2312" r="2.1" fill="#fff" opacity="0.54"/>
<circle cx="2884" cy="2300" r="1.9" fill="#fff" opacity="0.29"/>
<circle cx="2555" cy="2290" r="1.1" fill="#fff" opacity="0.56"/>
<circle cx="2457" cy="2228" r="1.2" fill="#fff" opacity="0.57"/>
<circle cx="2750" cy="2240" r="1.0" fill="#fff" opacity="0.17"/>
<circle cx="3258" cy="2291" r="2.1" fill="#fff" opacity="0.48"/>
<circle cx="2342" cy="2286" r="1.6" fill="#fff" opacity="0.52"/>
<circle cx="3443" cy="2318" r="1.1" fill="#fff" opacity="0.54"/>
<circle cx="3582" cy="2323" r="1.2" fill="#fff" opacity="0.24"/>
<circle cx="2409" cy="2229" r="2.4" fill="#fff" opacity="0.52"/>
<circle cx="3172" cy="2311" r="2.0" fill="#fff" opacity="0.28"/>
<circle cx="2391" cy="2235" r="2.2" fill="#fff" opacity="0.24"/>
<circle cx="2712" cy="2269" r="1.0" fill="#fff" opacity="0.27"/>
<circle cx="2659" cy="2299" r="1.6" fill="#fff" opacity="0.29"/>
<circle cx="3654" cy="2277" r="2.4" fill="#fff" opacity="0.43"/>
<circle cx="2291" cy="2268" r="1.7" fill="#fff" opacity="0.50"/>
<circle cx="2752" cy="2298" r="1.9" fill="#fff" opacity="0.25"/>
<circle cx="3506" cy="2234" r="2.3" fill="#fff" opacity="0.23"/>
<circle cx="2247" cy="2246" r="2.2" fill="#fff" opacity="0.59"/>
<circle cx="2252" cy="2276" r="1.8" fill="#fff" opacity="0.51"/>
<circle cx="2515" cy="2276" r="1.6" fill="#fff" opacity="0.52"/>
<circle cx="2626" cy="2323" r="1.5" fill="#fff" opacity="0.25"/>
<circle cx="3268" cy="2277" r="1.2" fill="#fff" opacity="0.44"/>
<circle cx="2364" cy="2307" r="2.1" fill="#fff" opacity="0.50"/>
<circle cx="3163" cy="2262" r="1.6" fill="#fff" opacity="0.33"/>
<circle cx="3547" cy="2234" r="2.4" fill="#fff" opacity="0.16"/>
<circle cx="2547" cy="2252" r="2.4" fill="#fff" opacity="0.38"/>
<circle cx="2800" cy="2317" r="1.4" fill="#fff" opacity="0.36"/>
<circle cx="3022" cy="2303" r="2.2" fill="#fff" opacity="0.44"/>
<circle cx="2755" cy="2259" r="1.2" fill="#fff" opacity="0.53"/>
<circle cx="3213" cy="2302" r="1.3" fill="#fff" opacity="0.35"/>
<circle cx="3376" cy="2285" r="1.2" fill="#fff" opacity="0.36"/>
<circle cx="3539" cy="2250" r="1.3" fill="#fff" opacity="0.29"/>
<circle cx="3273" cy="2313" r="1.2" fill="#fff" opacity="0.22"/>
<circle cx="2607" cy="2259" r="1.8" fill="#fff" opacity="0.22"/>
<circle cx="2725" cy="2245" r="2.6" fill="#fff" opacity="0.48"/>
<circle cx="2394" cy="2325" r="1.2" fill="#fff" opacity="0.32"/>
<circle cx="3683" cy="2308" r="2.2" fill="#fff" opacity="0.35"/>
<circle cx="2532" cy="2291" r="1.2" fill="#fff" opacity="0.24"/>
<circle cx="2813" cy="2229" r="1.6" fill="#fff" opacity="0.51"/>
<circle cx="3259" cy="2277" r="2.0" fill="#fff" opacity="0.36"/>
<circle cx="2453" cy="2288" r="1.6" fill="#fff" opacity="0.48"/>
<circle cx="3573" cy="2270" r="1.9" fill="#fff" opacity="0.49"/>
<circle cx="2861" cy="2249" r="2.2" fill="#fff" opacity="0.55"/>
<circle cx="3377" cy="2298" r="2.4" fill="#fff" opacity="0.46"/>
<circle cx="3183" cy="2272" r="1.5" fill="#fff" opacity="0.43"/>
<g filter="url(#b1)">
<rect x="2310.2" y="2276.0" width="34.0" height="7.8" rx="3" fill="#fff" opacity="0.18"/>
<rect x="2420.8" y="2282.3" width="34.0" height="8.6" rx="3" fill="#fff" opacity="0.37"/>
<rect x="2658.7" y="2280.3" width="34.0" height="8.6" rx="3" fill="#fff" opacity="0.37"/>
<rect x="2719.0" y="2270.7" width="34.0" height="7.8" rx="3" fill="#fff" opacity="0.18"/>
<rect x="2776.0" y="2274.0" width="34.0" height="10.6" rx="3" fill="#fff" opacity="0.83"/>
<rect x="3010.6" y="2292.4" width="34.0" height="8.6" rx="3" fill="#fff" opacity="0.37"/>
<rect x="3067.6" y="2278.1" width="34.0" height="9.0" rx="3" fill="#fff" opacity="0.46"/>
<rect x="3127.9" y="2283.4" width="34.0" height="9.2" rx="3" fill="#fff" opacity="0.51"/>
<rect x="3186.8" y="2288.2" width="34.0" height="9.0" rx="3" fill="#fff" opacity="0.46"/>
<rect x="3245.2" y="2293.4" width="34.0" height="9.2" rx="3" fill="#fff" opacity="0.51"/>
<rect x="3422.8" y="2297.4" width="34.0" height="10.6" rx="3" fill="#fff" opacity="0.83"/>
<rect x="3543.4" y="2292.6" width="34.0" height="8.2" rx="3" fill="#fff" opacity="0.28"/>
<rect x="2952.6" y="2249.3" width="36.0" height="10.4" rx="4" fill="#fff" opacity="0.90"/>
<rect x="2952.6" y="2274.7" width="36.0" height="10.4" rx="4" fill="#fff" opacity="0.95"/>
<rect x="2952.6" y="2308.2" width="36.0" height="10.4" rx="4" fill="#fff" opacity="0.90"/>
</g>
<g filter="url(#b2)">
<rect x="2358.3" y="2265.5" width="45.0" height="20.8" rx="8" fill="#fff" opacity="0.35"/>
<rect x="2361.3" y="2268.5" width="39.0" height="14.8" rx="6" fill="#fff"/>
<rect x="2536.4" y="2274.8" width="44.0" height="19.6" rx="8" fill="#fff" opacity="0.35"/>
<rect x="2539.4" y="2277.8" width="38.0" height="13.6" rx="6" fill="#fff"/>
</g>
</g>
<clipPath id="c2245_2356"><rect x="2245.5" y="2356.7" width="1461.5" height="105.9"/></clipPath>
<rect x="2245.5" y="2356.7" width="1461.5" height="105.9" fill="#212121"/>
<g clip-path="url(#c2245_2356)">
<circle cx="2389" cy="2401" r="2.3" fill="#fff" opacity="0.47"/>
<circle cx="3166" cy="2383" r="1.7" fill="#fff" opacity="0.35"/>
<circle cx="3154" cy="2400" r="2.1" fill="#fff" opacity="0.57"/>
<circle cx="2513" cy="2426" r="2.2" fill="#fff" opacity="0.32"/>
<circle cx="2961" cy="2460" r="1.1" fill="#fff" opacity="0.39"/>
<circle cx="2481" cy="2439" r="2.5" fill="#fff" opacity="0.38"/>
<circle cx="2393" cy="2418" r="1.9" fill="#fff" opacity="0.47"/>
<circle cx="2994" cy="2424" r="2.3" fill="#fff" opacity="0.38"/>
<circle cx="2845" cy="2457" r="1.3" fill="#fff" opacity="0.46"/>
<circle cx="2819" cy="2437" r="1.2" fill="#fff" opacity="0.59"/>
<circle cx="2765" cy="2363" r="1.4" fill="#fff" opacity="0.33"/>
<circle cx="2265" cy="2401" r="1.7" fill="#fff" opacity="0.46"/>
<circle cx="2760" cy="2385" r="1.4" fill="#fff" opacity="0.48"/>
<circle cx="3619" cy="2413" r="1.4" fill="#fff" opacity="0.51"/>
<circle cx="2818" cy="2379" r="1.2" fill="#fff" opacity="0.50"/>
<circle cx="3429" cy="2424" r="1.8" fill="#fff" opacity="0.40"/>
<circle cx="2576" cy="2459" r="1.6" fill="#fff" opacity="0.44"/>
<circle cx="3442" cy="2443" r="1.7" fill="#fff" opacity="0.28"/>
<circle cx="3047" cy="2370" r="2.3" fill="#fff" opacity="0.31"/>
<circle cx="3489" cy="2385" r="1.6" fill="#fff" opacity="0.26"/>
<circle cx="2868" cy="2376" r="1.0" fill="#fff" opacity="0.47"/>
<circle cx="2656" cy="2383" r="1.5" fill="#fff" opacity="0.37"/>
<circle cx="2872" cy="2424" r="2.1" fill="#fff" opacity="0.31"/>
<circle cx="3603" cy="2447" r="1.1" fill="#fff" opacity="0.52"/>
<circle cx="3569" cy="2440" r="1.2" fill="#fff" opacity="0.52"/>
<circle cx="3171" cy="2358" r="1.0" fill="#fff" opacity="0.58"/>
<circle cx="3204" cy="2383" r="1.2" fill="#fff" opacity="0.21"/>
<circle cx="2587" cy="2439" r="1.6" fill="#fff" opacity="0.22"/>
<circle cx="3567" cy="2441" r="1.3" fill="#fff" opacity="0.55"/>
<circle cx="3135" cy="2439" r="2.1" fill="#fff" opacity="0.55"/>
<circle cx="3397" cy="2446" r="1.3" fill="#fff" opacity="0.46"/>
<circle cx="3021" cy="2435" r="1.7" fill="#fff" opacity="0.55"/>
<circle cx="3057" cy="2385" r="1.4" fill="#fff" opacity="0.21"/>
<circle cx="2966" cy="2363" r="1.7" fill="#fff" opacity="0.21"/>
<circle cx="2964" cy="2409" r="1.9" fill="#fff" opacity="0.54"/>
<circle cx="2255" cy="2446" r="1.7" fill="#fff" opacity="0.40"/>
<circle cx="3218" cy="2446" r="1.6" fill="#fff" opacity="0.34"/>
<circle cx="3649" cy="2365" r="2.0" fill="#fff" opacity="0.44"/>
<circle cx="2287" cy="2421" r="2.1" fill="#fff" opacity="0.57"/>
<circle cx="2728" cy="2461" r="1.8" fill="#fff" opacity="0.37"/>
<circle cx="3557" cy="2360" r="2.1" fill="#fff" opacity="0.43"/>
<circle cx="2740" cy="2448" r="1.6" fill="#fff" opacity="0.36"/>
<circle cx="3014" cy="2438" r="1.3" fill="#fff" opacity="0.35"/>
<circle cx="2863" cy="2415" r="2.3" fill="#fff" opacity="0.28"/>
<circle cx="3455" cy="2399" r="1.8" fill="#fff" opacity="0.27"/>
<circle cx="2986" cy="2460" r="2.0" fill="#fff" opacity="0.51"/>
<circle cx="2729" cy="2390" r="1.5" fill="#fff" opacity="0.41"/>
<circle cx="3173" cy="2440" r="1.1" fill="#fff" opacity="0.48"/>
<circle cx="3540" cy="2414" r="1.1" fill="#fff" opacity="0.29"/>
<circle cx="2255" cy="2377" r="2.5" fill="#fff" opacity="0.42"/>
<circle cx="3207" cy="2440" r="2.5" fill="#fff" opacity="0.43"/>
<circle cx="3147" cy="2423" r="2.1" fill="#fff" opacity="0.42"/>
<circle cx="3241" cy="2379" r="2.1" fill="#fff" opacity="0.36"/>
<circle cx="3360" cy="2367" r="1.3" fill="#fff" opacity="0.17"/>
<circle cx="3377" cy="2454" r="2.0" fill="#fff" opacity="0.32"/>
<circle cx="3448" cy="2440" r="1.9" fill="#fff" opacity="0.27"/>
<circle cx="2687" cy="2401" r="1.5" fill="#fff" opacity="0.34"/>
<circle cx="3183" cy="2456" r="1.1" fill="#fff" opacity="0.41"/>
<circle cx="2303" cy="2369" r="2.3" fill="#fff" opacity="0.41"/>
<circle cx="3588" cy="2404" r="1.0" fill="#fff" opacity="0.32"/>
<circle cx="3111" cy="2456" r="2.6" fill="#fff" opacity="0.36"/>
<circle cx="2848" cy="2368" r="2.0" fill="#fff" opacity="0.25"/>
<circle cx="2467" cy="2358" r="1.0" fill="#fff" opacity="0.46"/>
<circle cx="2423" cy="2459" r="1.1" fill="#fff" opacity="0.54"/>
<circle cx="2434" cy="2359" r="2.2" fill="#fff" opacity="0.26"/>
<circle cx="3318" cy="2377" r="1.1" fill="#fff" opacity="0.50"/>
<circle cx="3288" cy="2447" r="2.2" fill="#fff" opacity="0.19"/>
<circle cx="3164" cy="2432" r="1.7" fill="#fff" opacity="0.57"/>
<circle cx="2617" cy="2459" r="2.1" fill="#fff" opacity="0.16"/>
<circle cx="2267" cy="2426" r="2.3" fill="#fff" opacity="0.19"/>
<g filter="url(#b1)">
<rect x="2253.3" y="2379.5" width="34.0" height="8.2" rx="3" fill="#fff" opacity="0.28"/>
<rect x="2313.6" y="2390.5" width="34.0" height="9.0" rx="3" fill="#fff" opacity="0.46"/>
<rect x="2373.9" y="2399.2" width="34.0" height="9.0" rx="3" fill="#fff" opacity="0.46"/>
<rect x="2548.1" y="2401.3" width="34.0" height="8.8" rx="3" fill="#fff" opacity="0.41"/>
<rect x="2665.4" y="2408.6" width="34.0" height="7.6" rx="3" fill="#fff" opacity="0.14"/>
<rect x="2722.4" y="2411.2" width="34.0" height="7.8" rx="3" fill="#fff" opacity="0.18"/>
<rect x="2896.7" y="2402.0" width="34.0" height="10.0" rx="3" fill="#fff" opacity="0.69"/>
<rect x="3010.6" y="2410.6" width="34.0" height="9.0" rx="3" fill="#fff" opacity="0.46"/>
<rect x="3070.9" y="2412.4" width="34.0" height="9.4" rx="3" fill="#fff" opacity="0.55"/>
<rect x="3129.2" y="2412.1" width="34.0" height="10.0" rx="3" fill="#fff" opacity="0.69"/>
<rect x="3188.2" y="2420.8" width="34.0" height="8.6" rx="3" fill="#fff" opacity="0.37"/>
<rect x="3305.5" y="2415.9" width="34.0" height="9.0" rx="3" fill="#fff" opacity="0.46"/>
<rect x="3362.4" y="2417.2" width="34.0" height="9.2" rx="3" fill="#fff" opacity="0.51"/>
<rect x="3419.4" y="2417.8" width="34.0" height="8.0" rx="3" fill="#fff" opacity="0.23"/>
<rect x="3533.3" y="2428.2" width="34.0" height="8.6" rx="3" fill="#fff" opacity="0.37"/>
<rect x="3591.6" y="2424.2" width="34.0" height="9.8" rx="3" fill="#fff" opacity="0.64"/>
<rect x="3650.6" y="2432.3" width="34.0" height="9.8" rx="3" fill="#fff" opacity="0.64"/>
<rect x="2954.0" y="2362.9" width="36.0" height="10.4" rx="4" fill="#fff" opacity="0.95"/>
<rect x="2954.0" y="2399.8" width="36.0" height="10.4" rx="4" fill="#fff" opacity="0.95"/>
<rect x="2954.0" y="2442.0" width="36.0" height="10.4" rx="4" fill="#fff" opacity="0.90"/>
</g>
<g filter="url(#b2)">
</g>
</g>
<clipPath id="c2245_2494"><rect x="2245.5" y="2494.8" width="1461.5" height="105.0"/></clipPath>
<rect x="2245.5" y="2494.8" width="1461.5" height="105.0" fill="#303030"/>
<g clip-path="url(#c2245_2494)">
<g filter="url(#bs)">
<rect x="2308.2" y="2484.8" width="38.0" height="125.0" fill="#fff" opacity="0.04"/>
<rect x="2368.5" y="2484.8" width="38.0" height="125.0" fill="#fff" opacity="0.05"/>
<rect x="3011.9" y="2484.8" width="38.0" height="125.0" fill="#fff" opacity="0.05"/>
<rect x="3424.1" y="2484.8" width="38.0" height="125.0" fill="#fff" opacity="0.04"/>
<rect x="3601.7" y="2484.8" width="38.0" height="125.0" fill="#fff" opacity="0.04"/>
</g>
<circle cx="2700" cy="2571" r="1.3" fill="#fff" opacity="0.54"/>
<circle cx="2956" cy="2501" r="1.6" fill="#fff" opacity="0.41"/>
<circle cx="2887" cy="2566" r="1.2" fill="#fff" opacity="0.51"/>
<circle cx="2776" cy="2563" r="2.0" fill="#fff" opacity="0.34"/>
<circle cx="2809" cy="2577" r="2.5" fill="#fff" opacity="0.50"/>
<circle cx="3074" cy="2526" r="1.1" fill="#fff" opacity="0.59"/>
<circle cx="3273" cy="2582" r="1.5" fill="#fff" opacity="0.42"/>
<circle cx="3674" cy="2582" r="2.0" fill="#fff" opacity="0.29"/>
<circle cx="2872" cy="2588" r="1.6" fill="#fff" opacity="0.46"/>
<circle cx="3125" cy="2589" r="2.3" fill="#fff" opacity="0.28"/>
<circle cx="2248" cy="2522" r="1.7" fill="#fff" opacity="0.41"/>
<circle cx="3438" cy="2588" r="1.1" fill="#fff" opacity="0.52"/>
<circle cx="3432" cy="2586" r="1.9" fill="#fff" opacity="0.27"/>
<circle cx="3490" cy="2580" r="2.1" fill="#fff" opacity="0.56"/>
<circle cx="2752" cy="2504" r="1.9" fill="#fff" opacity="0.51"/>
<circle cx="2538" cy="2574" r="2.5" fill="#fff" opacity="0.26"/>
<circle cx="3132" cy="2566" r="1.7" fill="#fff" opacity="0.24"/>
<circle cx="2618" cy="2574" r="2.3" fill="#fff" opacity="0.36"/>
<circle cx="2374" cy="2579" r="2.2" fill="#fff" opacity="0.25"/>
<circle cx="3093" cy="2589" r="2.4" fill="#fff" opacity="0.38"/>
<circle cx="2942" cy="2557" r="1.3" fill="#fff" opacity="0.24"/>
<circle cx="2510" cy="2568" r="1.6" fill="#fff" opacity="0.40"/>
<circle cx="2834" cy="2549" r="1.2" fill="#fff" opacity="0.17"/>
<circle cx="3703" cy="2534" r="1.2" fill="#fff" opacity="0.43"/>
<circle cx="3396" cy="2511" r="2.0" fill="#fff" opacity="0.31"/>
<circle cx="3005" cy="2497" r="1.1" fill="#fff" opacity="0.60"/>
<circle cx="3511" cy="2546" r="1.9" fill="#fff" opacity="0.27"/>
<circle cx="3384" cy="2540" r="2.5" fill="#fff" opacity="0.50"/>
<circle cx="3442" cy="2596" r="1.4" fill="#fff" opacity="0.17"/>
<circle cx="2539" cy="2514" r="1.1" fill="#fff" opacity="0.17"/>
<circle cx="3060" cy="2586" r="1.7" fill="#fff" opacity="0.58"/>
<circle cx="3575" cy="2502" r="2.0" fill="#fff" opacity="0.33"/>
<circle cx="2421" cy="2596" r="1.4" fill="#fff" opacity="0.40"/>
<circle cx="3182" cy="2595" r="2.1" fill="#fff" opacity="0.33"/>
<circle cx="2901" cy="2512" r="2.5" fill="#fff" opacity="0.60"/>
<circle cx="2570" cy="2499" r="1.4" fill="#fff" opacity="0.31"/>
<circle cx="3565" cy="2590" r="2.3" fill="#fff" opacity="0.17"/>
<circle cx="3395" cy="2569" r="2.0" fill="#fff" opacity="0.59"/>
<circle cx="2327" cy="2510" r="2.2" fill="#fff" opacity="0.57"/>
<circle cx="3235" cy="2526" r="1.9" fill="#fff" opacity="0.49"/>
<circle cx="2400" cy="2529" r="1.4" fill="#fff" opacity="0.21"/>
<circle cx="2949" cy="2513" r="1.4" fill="#fff" opacity="0.21"/>
<circle cx="3236" cy="2496" r="2.1" fill="#fff" opacity="0.24"/>
<circle cx="2298" cy="2592" r="1.4" fill="#fff" opacity="0.57"/>
<circle cx="3512" cy="2588" r="1.2" fill="#fff" opacity="0.35"/>
<circle cx="2387" cy="2592" r="2.3" fill="#fff" opacity="0.43"/>
<circle cx="2907" cy="2530" r="2.3" fill="#fff" opacity="0.36"/>
<circle cx="3164" cy="2510" r="1.4" fill="#fff" opacity="0.18"/>
<circle cx="3289" cy="2553" r="1.2" fill="#fff" opacity="0.54"/>
<circle cx="2635" cy="2538" r="1.2" fill="#fff" opacity="0.27"/>
<circle cx="3473" cy="2530" r="1.3" fill="#fff" opacity="0.37"/>
<circle cx="2710" cy="2590" r="1.2" fill="#fff" opacity="0.59"/>
<circle cx="2329" cy="2589" r="2.1" fill="#fff" opacity="0.25"/>
<circle cx="2943" cy="2525" r="1.4" fill="#fff" opacity="0.24"/>
<circle cx="2778" cy="2599" r="2.6" fill="#fff" opacity="0.57"/>
<circle cx="2388" cy="2525" r="2.4" fill="#fff" opacity="0.18"/>
<circle cx="3307" cy="2526" r="2.6" fill="#fff" opacity="0.16"/>
<circle cx="3425" cy="2531" r="1.2" fill="#fff" opacity="0.15"/>
<circle cx="3462" cy="2550" r="1.3" fill="#fff" opacity="0.35"/>
<circle cx="3578" cy="2518" r="1.9" fill="#fff" opacity="0.21"/>
<circle cx="2509" cy="2576" r="2.1" fill="#fff" opacity="0.24"/>
<circle cx="2361" cy="2504" r="2.0" fill="#fff" opacity="0.37"/>
<circle cx="2646" cy="2516" r="2.0" fill="#fff" opacity="0.47"/>
<circle cx="3432" cy="2556" r="1.3" fill="#fff" opacity="0.18"/>
<circle cx="3316" cy="2538" r="2.2" fill="#fff" opacity="0.17"/>
<circle cx="3430" cy="2530" r="2.3" fill="#fff" opacity="0.54"/>
<circle cx="2966" cy="2496" r="2.5" fill="#fff" opacity="0.36"/>
<circle cx="3520" cy="2523" r="1.3" fill="#fff" opacity="0.52"/>
<circle cx="2782" cy="2512" r="1.6" fill="#fff" opacity="0.42"/>
<circle cx="2252" cy="2549" r="1.7" fill="#fff" opacity="0.38"/>
<circle cx="2422" cy="2570" r="2.3" fill="#fff" opacity="0.54"/>
<circle cx="2715" cy="2569" r="1.6" fill="#fff" opacity="0.49"/>
<circle cx="2335" cy="2586" r="2.5" fill="#fff" opacity="0.37"/>
<circle cx="2996" cy="2551" r="1.9" fill="#fff" opacity="0.16"/>
<circle cx="3659" cy="2518" r="1.3" fill="#fff" opacity="0.20"/>
<circle cx="2612" cy="2581" r="1.0" fill="#fff" opacity="0.19"/>
<circle cx="3267" cy="2515" r="1.0" fill="#fff" opacity="0.42"/>
<circle cx="3088" cy="2550" r="2.1" fill="#fff" opacity="0.20"/>
<circle cx="3516" cy="2570" r="1.1" fill="#fff" opacity="0.21"/>
<circle cx="2967" cy="2547" r="1.4" fill="#fff" opacity="0.20"/>
<g filter="url(#b1)">
<rect x="2249.9" y="2533.6" width="34.0" height="8.2" rx="3" fill="#fff" opacity="0.28"/>
<rect x="2310.2" y="2543.7" width="34.0" height="8.2" rx="3" fill="#fff" opacity="0.28"/>
<rect x="2779.4" y="2550.2" width="34.0" height="8.6" rx="3" fill="#fff" opacity="0.37"/>
<rect x="2839.7" y="2560.8" width="34.0" height="7.5" rx="3" fill="#fff" opacity="0.11"/>
<rect x="3013.9" y="2517.1" width="34.0" height="7.8" rx="3" fill="#fff" opacity="0.18"/>
<rect x="3013.9" y="2525.7" width="34.0" height="8.0" rx="3" fill="#fff" opacity="0.23"/>
<rect x="3013.9" y="2534.9" width="34.0" height="8.2" rx="3" fill="#fff" opacity="0.28"/>
<rect x="3013.9" y="2550.3" width="34.0" height="8.4" rx="3" fill="#fff" opacity="0.32"/>
<rect x="3074.3" y="2560.2" width="34.0" height="8.6" rx="3" fill="#fff" opacity="0.37"/>
<rect x="3191.5" y="2559.8" width="34.0" height="9.4" rx="3" fill="#fff" opacity="0.55"/>
<rect x="3248.5" y="2571.5" width="34.0" height="8.8" rx="3" fill="#fff" opacity="0.41"/>
<rect x="3308.8" y="2564.5" width="34.0" height="9.4" rx="3" fill="#fff" opacity="0.55"/>
<rect x="3426.1" y="2570.8" width="34.0" height="7.5" rx="3" fill="#fff" opacity="0.11"/>
<rect x="3603.7" y="2567.0" width="34.0" height="8.4" rx="3" fill="#fff" opacity="0.32"/>
<rect x="2954.0" y="2512.4" width="36.0" height="10.4" rx="4" fill="#fff" opacity="0.90"/>
<rect x="2954.0" y="2543.9" width="36.0" height="10.4" rx="4" fill="#fff" opacity="0.95"/>
<rect x="2954.0" y="2581.4" width="36.0" height="10.4" rx="4" fill="#fff" opacity="0.85"/>
</g>
<g filter="url(#b2)">
</g>
</g>
<clipPath id="c2245_2622"><rect x="2245.5" y="2622.7" width="1461.5" height="103.8"/></clipPath>
<rect x="2245.5" y="2622.7" width="1461.5" height="103.8" fill="#282828"/>
<g clip-path="url(#c2245_2622)">
<g filter="url(#bs)">
<rect x="2489.2" y="2612.7" width="38.0" height="123.8" fill="#fff" opacity="0.05"/>
<rect x="2368.5" y="2612.7" width="38.0" height="123.8" fill="#fff" opacity="0.04"/>
</g>
<circle cx="2838" cy="2637" r="1.9" fill="#fff" opacity="0.54"/>
<circle cx="2461" cy="2682" r="2.2" fill="#fff" opacity="0.22"/>
<circle cx="3453" cy="2720" r="1.6" fill="#fff" opacity="0.34"/>
<circle cx="3473" cy="2677" r="1.6" fill="#fff" opacity="0.57"/>
<circle cx="3381" cy="2658" r="1.4" fill="#fff" opacity="0.30"/>
<circle cx="2882" cy="2725" r="2.3" fill="#fff" opacity="0.56"/>
<circle cx="3437" cy="2711" r="1.1" fill="#fff" opacity="0.38"/>
<circle cx="3645" cy="2720" r="1.4" fill="#fff" opacity="0.34"/>
<circle cx="3170" cy="2661" r="1.8" fill="#fff" opacity="0.18"/>
<circle cx="2878" cy="2675" r="1.0" fill="#fff" opacity="0.21"/>
<circle cx="3663" cy="2703" r="2.5" fill="#fff" opacity="0.43"/>
<circle cx="3428" cy="2714" r="2.4" fill="#fff" opacity="0.17"/>
<circle cx="3183" cy="2650" r="2.1" fill="#fff" opacity="0.27"/>
<circle cx="3038" cy="2719" r="2.0" fill="#fff" opacity="0.26"/>
<circle cx="3006" cy="2668" r="2.5" fill="#fff" opacity="0.28"/>
<circle cx="2692" cy="2690" r="1.2" fill="#fff" opacity="0.42"/>
<circle cx="3643" cy="2676" r="1.4" fill="#fff" opacity="0.36"/>
<circle cx="3026" cy="2638" r="1.2" fill="#fff" opacity="0.21"/>
<circle cx="2675" cy="2665" r="1.5" fill="#fff" opacity="0.26"/>
<circle cx="2374" cy="2679" r="2.3" fill="#fff" opacity="0.42"/>
<circle cx="3079" cy="2690" r="1.3" fill="#fff" opacity="0.47"/>
<circle cx="2919" cy="2680" r="2.0" fill="#fff" opacity="0.36"/>
<circle cx="2699" cy="2648" r="1.4" fill="#fff" opacity="0.38"/>
<circle cx="2806" cy="2683" r="1.0" fill="#fff" opacity="0.31"/>
<circle cx="3505" cy="2647" r="1.9" fill="#fff" opacity="0.37"/>
<g filter="url(#b1)">
<rect x="2249.9" y="2668.0" width="34.0" height="7.5" rx="3" fill="#fff" opacity="0.11"/>
<rect x="2313.6" y="2678.1" width="34.0" height="7.5" rx="3" fill="#fff" opacity="0.11"/>
<rect x="2370.5" y="2667.9" width="34.0" height="7.6" rx="3" fill="#fff" opacity="0.14"/>
<rect x="2432.2" y="2659.9" width="34.0" height="10.2" rx="3" fill="#fff" opacity="0.74"/>
<rect x="2491.2" y="2668.9" width="34.0" height="8.4" rx="3" fill="#fff" opacity="0.32"/>
<rect x="2605.1" y="2662.6" width="34.0" height="7.5" rx="3" fill="#fff" opacity="0.11"/>
<rect x="2722.4" y="2676.2" width="34.0" height="8.6" rx="3" fill="#fff" opacity="0.37"/>
<rect x="2779.4" y="2670.5" width="34.0" height="9.2" rx="3" fill="#fff" opacity="0.51"/>
<rect x="2838.3" y="2663.8" width="34.0" height="9.2" rx="3" fill="#fff" opacity="0.51"/>
<rect x="3070.9" y="2672.2" width="34.0" height="9.8" rx="3" fill="#fff" opacity="0.64"/>
<rect x="3131.2" y="2660.7" width="34.0" height="8.6" rx="3" fill="#fff" opacity="0.37"/>
<rect x="3248.5" y="2681.0" width="34.0" height="8.2" rx="3" fill="#fff" opacity="0.28"/>
<rect x="3654.0" y="2701.2" width="34.0" height="8.2" rx="3" fill="#fff" opacity="0.28"/>
<rect x="2954.0" y="2629.7" width="36.0" height="10.4" rx="4" fill="#fff" opacity="0.90"/>
<rect x="2954.0" y="2663.2" width="36.0" height="10.4" rx="4" fill="#fff" opacity="0.95"/>
<rect x="2954.0" y="2703.4" width="36.0" height="10.4" rx="4" fill="#fff" opacity="0.85"/>
</g>
<g filter="url(#b2)">
</g>
</g>
<clipPath id="c2245_2780"><rect x="2245.5" y="2780.5" width="1461.5" height="108.1"/></clipPath>
<rect x="2245.5" y="2780.5" width="1461.5" height="108.1" fill="#272727"/>
<g clip-path="url(#c2245_2780)">
<circle cx="2662" cy="2887" r="1.5" fill="#fff" opacity="0.50"/>
<circle cx="2477" cy="2788" r="2.4" fill="#fff" opacity="0.35"/>
<circle cx="2336" cy="2822" r="1.7" fill="#fff" opacity="0.48"/>
<circle cx="2405" cy="2805" r="2.5" fill="#fff" opacity="0.48"/>
<circle cx="2471" cy="2817" r="1.6" fill="#fff" opacity="0.45"/>
<circle cx="3146" cy="2872" r="2.3" fill="#fff" opacity="0.38"/>
<circle cx="3325" cy="2861" r="2.2" fill="#fff" opacity="0.36"/>
<circle cx="3393" cy="2857" r="2.5" fill="#fff" opacity="0.21"/>
<circle cx="3518" cy="2781" r="2.2" fill="#fff" opacity="0.41"/>
<circle cx="2973" cy="2885" r="1.9" fill="#fff" opacity="0.34"/>
<circle cx="3391" cy="2875" r="2.0" fill="#fff" opacity="0.32"/>
<circle cx="2907" cy="2830" r="2.2" fill="#fff" opacity="0.28"/>
<circle cx="2816" cy="2841" r="1.6" fill="#fff" opacity="0.29"/>
<circle cx="3396" cy="2872" r="1.8" fill="#fff" opacity="0.35"/>
<circle cx="2515" cy="2813" r="1.2" fill="#fff" opacity="0.41"/>
<circle cx="3095" cy="2790" r="2.5" fill="#fff" opacity="0.30"/>
<circle cx="3478" cy="2871" r="2.5" fill="#fff" opacity="0.24"/>
<circle cx="2869" cy="2879" r="1.0" fill="#fff" opacity="0.17"/>
<circle cx="3071" cy="2834" r="2.5" fill="#fff" opacity="0.50"/>
<circle cx="3033" cy="2888" r="1.8" fill="#fff" opacity="0.38"/>
<circle cx="3247" cy="2823" r="1.6" fill="#fff" opacity="0.42"/>
<circle cx="2759" cy="2883" r="2.1" fill="#fff" opacity="0.39"/>
<circle cx="2390" cy="2821" r="1.6" fill="#fff" opacity="0.40"/>
<circle cx="3084" cy="2876" r="2.5" fill="#fff" opacity="0.37"/>
<circle cx="2889" cy="2848" r="2.6" fill="#fff" opacity="0.30"/>
<circle cx="3020" cy="2869" r="1.3" fill="#fff" opacity="0.29"/>
<circle cx="3675" cy="2870" r="1.8" fill="#fff" opacity="0.20"/>
<circle cx="3553" cy="2855" r="2.3" fill="#fff" opacity="0.60"/>
<circle cx="3544" cy="2826" r="1.3" fill="#fff" opacity="0.28"/>
<circle cx="2993" cy="2835" r="1.3" fill="#fff" opacity="0.23"/>
<circle cx="3166" cy="2846" r="1.6" fill="#fff" opacity="0.60"/>
<circle cx="3176" cy="2785" r="1.7" fill="#fff" opacity="0.50"/>
<circle cx="2694" cy="2855" r="1.0" fill="#fff" opacity="0.29"/>
<circle cx="3476" cy="2844" r="2.1" fill="#fff" opacity="0.24"/>
<circle cx="2973" cy="2840" r="1.4" fill="#fff" opacity="0.44"/>
<circle cx="3022" cy="2888" r="1.9" fill="#fff" opacity="0.33"/>
<circle cx="2423" cy="2797" r="2.2" fill="#fff" opacity="0.20"/>
<circle cx="2392" cy="2799" r="1.8" fill="#fff" opacity="0.52"/>
<circle cx="3141" cy="2868" r="1.1" fill="#fff" opacity="0.16"/>
<circle cx="3372" cy="2815" r="2.1" fill="#fff" opacity="0.31"/>
<circle cx="2493" cy="2809" r="1.2" fill="#fff" opacity="0.56"/>
<circle cx="3096" cy="2818" r="1.7" fill="#fff" opacity="0.32"/>
<circle cx="2325" cy="2877" r="1.9" fill="#fff" opacity="0.58"/>
<circle cx="2888" cy="2848" r="1.4" fill="#fff" opacity="0.17"/>
<circle cx="3606" cy="2873" r="1.5" fill="#fff" opacity="0.55"/>
<circle cx="3438" cy="2813" r="2.0" fill="#fff" opacity="0.58"/>
<circle cx="2970" cy="2883" r="1.4" fill="#fff" opacity="0.33"/>
<circle cx="3296" cy="2804" r="1.5" fill="#fff" opacity="0.54"/>
<circle cx="2953" cy="2866" r="1.4" fill="#fff" opacity="0.23"/>
<circle cx="2769" cy="2801" r="2.6" fill="#fff" opacity="0.28"/>
<circle cx="3066" cy="2793" r="1.9" fill="#fff" opacity="0.32"/>
<circle cx="2835" cy="2788" r="1.2" fill="#fff" opacity="0.52"/>
<circle cx="2759" cy="2807" r="1.3" fill="#fff" opacity="0.28"/>
<circle cx="2592" cy="2784" r="2.1" fill="#fff" opacity="0.30"/>
<circle cx="2473" cy="2857" r="1.1" fill="#fff" opacity="0.27"/>
<circle cx="3466" cy="2794" r="1.7" fill="#fff" opacity="0.53"/>
<circle cx="3422" cy="2798" r="1.6" fill="#fff" opacity="0.48"/>
<circle cx="2796" cy="2884" r="1.3" fill="#fff" opacity="0.58"/>
<circle cx="2983" cy="2805" r="1.7" fill="#fff" opacity="0.21"/>
<circle cx="3278" cy="2809" r="2.4" fill="#fff" opacity="0.41"/>
<circle cx="2783" cy="2807" r="2.0" fill="#fff" opacity="0.25"/>
<circle cx="3520" cy="2794" r="1.8" fill="#fff" opacity="0.39"/>
<circle cx="2641" cy="2864" r="1.6" fill="#fff" opacity="0.45"/>
<circle cx="3075" cy="2814" r="1.6" fill="#fff" opacity="0.19"/>
<circle cx="2504" cy="2872" r="1.5" fill="#fff" opacity="0.45"/>
<circle cx="2405" cy="2841" r="1.6" fill="#fff" opacity="0.38"/>
<circle cx="2680" cy="2788" r="1.5" fill="#fff" opacity="0.25"/>
<circle cx="2430" cy="2858" r="1.5" fill="#fff" opacity="0.33"/>
<circle cx="3574" cy="2864" r="2.4" fill="#fff" opacity="0.54"/>
<circle cx="2439" cy="2810" r="1.0" fill="#fff" opacity="0.46"/>
<g filter="url(#b1)">
<rect x="2253.3" y="2831.8" width="34.0" height="8.2" rx="3" fill="#fff" opacity="0.28"/>
<rect x="2313.6" y="2823.8" width="34.0" height="8.2" rx="3" fill="#fff" opacity="0.28"/>
<rect x="2370.5" y="2830.5" width="34.0" height="8.2" rx="3" fill="#fff" opacity="0.28"/>
<rect x="2608.5" y="2833.9" width="34.0" height="8.0" rx="3" fill="#fff" opacity="0.23"/>
<rect x="2722.4" y="2833.9" width="34.0" height="8.0" rx="3" fill="#fff" opacity="0.23"/>
<rect x="2779.4" y="2830.5" width="34.0" height="8.2" rx="3" fill="#fff" opacity="0.28"/>
<rect x="3483.1" y="2837.3" width="34.0" height="8.0" rx="3" fill="#fff" opacity="0.23"/>
<rect x="2956.0" y="2797.2" width="36.0" height="10.4" rx="4" fill="#fff" opacity="0.90"/>
<rect x="2956.0" y="2824.0" width="36.0" height="10.4" rx="4" fill="#fff" opacity="0.90"/>
<rect x="2956.0" y="2866.2" width="36.0" height="10.4" rx="4" fill="#fff" opacity="0.90"/>
</g>
<g filter="url(#b2)">
</g>
</g>
</g>
<g id="panel-c">
<text x="2033.3" y="1031.0" font-size="85" textLength="35.0" lengthAdjust="spacingAndGlyphs" class="se" fill="#000">c</text>
<text x="2523.8" y="1007.3" font-size="57" textLength="89.7" lengthAdjust="spacingAndGlyphs" stroke-width="1.3" fill="#000">WT</text>
<text x="3032.1" y="1007.5" font-size="57" textLength="591.1" lengthAdjust="spacing" stroke-width="1.3" fill="#000">transformed seedlings</text>
<clipPath id="cph"><rect x="2212.5" y="1024" width="1557.0" height="860.5"/></clipPath>
<rect x="2212.5" y="1024.0" width="1557.0" height="860.5" fill="#020202"/>
<g clip-path="url(#cph)">
<path d="M2630 1072L2582 1853" stroke="#c8ad74" stroke-width="11" fill="none"/>
<path d="M3209.6 1109L3246.7 1846" stroke="#bfa572" stroke-width="11" fill="none"/>
<path d="M3356 1109L3280 1846" stroke="#a88e5c" stroke-width="11" fill="none"/>
<g filter="url(#lf2)">
<path d="M3304 1285C3307 1269 3313 1255 3324 1252C3334 1249 3378 1255 3392 1258C3407 1260 3431 1268 3448 1271C3464 1275 3517 1280 3530 1285C3543 1290 3554 1303 3558 1312C3561 1322 3564 1359 3558 1368C3551 1376 3519 1381 3502 1381C3486 1381 3438 1367 3420 1368C3402 1368 3368 1388 3354 1390C3340 1391 3310 1397 3304 1384C3299 1371 3302 1301 3304 1285Z" fill="#1a2216"/>
<path d="M2725 1698C2728 1692 2760 1715 2769 1711C2777 1708 2790 1685 2794 1670C2797 1655 2789 1598 2796 1588C2804 1577 2842 1574 2854 1579C2866 1585 2883 1622 2892 1632C2902 1641 2929 1649 2934 1659C2938 1669 2933 1701 2928 1711C2923 1722 2903 1740 2892 1747C2882 1754 2851 1766 2838 1769C2824 1772 2794 1773 2782 1772C2771 1771 2751 1770 2744 1761C2737 1752 2722 1703 2725 1698Z" fill="#1e2a17"/>
<path d="M3431 1620C3436 1614 3462 1603 3475 1604C3488 1605 3528 1621 3541 1626C3554 1631 3578 1639 3585 1642C3592 1646 3600 1654 3596 1659C3592 1664 3561 1677 3555 1681C3548 1685 3553 1691 3544 1692C3534 1693 3488 1696 3475 1692C3462 1688 3439 1668 3434 1659C3428 1650 3426 1627 3431 1620Z" fill="#1e2c19"/>
<path d="M2607 1574C2611 1565 2631 1565 2640 1566C2649 1566 2674 1574 2678 1582C2683 1590 2683 1618 2681 1629C2680 1639 2673 1662 2668 1670C2662 1678 2641 1693 2634 1695C2628 1697 2616 1693 2612 1686C2609 1680 2605 1656 2604 1642C2604 1629 2603 1583 2607 1574Z" fill="#202f1a"/>
<path d="M3354 1395C3360 1389 3405 1373 3420 1373C3435 1373 3465 1389 3475 1395C3485 1401 3501 1415 3502 1422C3504 1430 3505 1456 3489 1461C3472 1466 3379 1466 3365 1461C3351 1456 3372 1430 3370 1422C3369 1415 3348 1401 3354 1395Z" fill="#202f1b"/>
<path d="M3365 1447C3375 1439 3451 1440 3461 1447C3471 1455 3449 1498 3448 1510C3446 1523 3449 1542 3445 1549C3441 1556 3423 1570 3414 1566C3406 1561 3382 1527 3376 1513C3370 1499 3355 1455 3365 1447Z" fill="#202f1b"/>
<path d="M2338 1574C2338 1555 2338 1529 2343 1519C2348 1509 2368 1498 2376 1491C2384 1484 2399 1464 2409 1461C2419 1458 2450 1461 2461 1466C2472 1472 2494 1494 2502 1505C2511 1516 2529 1548 2533 1560C2536 1572 2535 1601 2530 1604C2525 1607 2499 1586 2489 1582C2479 1578 2455 1567 2448 1571C2440 1575 2436 1606 2428 1615C2420 1624 2390 1641 2379 1648C2368 1655 2342 1684 2338 1676C2333 1667 2337 1593 2338 1574Z" fill="#22331b"/>
<path d="M3392 1739C3394 1721 3408 1683 3414 1676C3421 1668 3440 1676 3448 1678C3455 1681 3471 1689 3475 1698C3479 1706 3479 1739 3478 1752C3476 1766 3468 1799 3464 1808C3460 1816 3447 1817 3442 1821C3437 1825 3425 1840 3420 1840C3415 1840 3401 1833 3398 1821C3395 1809 3391 1756 3392 1739Z" fill="#22331b"/>
<path d="M3502 1422C3514 1411 3570 1369 3582 1365C3595 1361 3603 1378 3607 1390C3611 1401 3627 1452 3612 1461C3598 1470 3502 1466 3489 1461C3476 1456 3491 1434 3502 1422Z" fill="#22331d"/>
<path d="M2612 1450C2623 1440 2689 1436 2700 1450C2710 1464 2707 1552 2700 1566C2693 1579 2651 1569 2640 1566C2629 1562 2613 1546 2610 1532C2606 1519 2602 1460 2612 1450Z" fill="#23371d"/>
<path d="M3544 1447C3554 1434 3614 1442 3629 1447C3644 1453 3658 1481 3668 1491C3677 1501 3701 1522 3709 1532C3717 1543 3727 1569 3734 1582C3740 1595 3758 1634 3761 1642C3764 1651 3763 1655 3758 1654C3754 1652 3733 1637 3722 1626C3712 1615 3679 1577 3668 1566C3656 1554 3630 1532 3624 1532C3617 1533 3617 1561 3612 1571C3608 1581 3593 1606 3585 1615C3577 1624 3552 1649 3546 1642C3541 1636 3541 1583 3541 1560C3541 1537 3533 1461 3544 1447Z" fill="#23371d"/>
<path d="M2983 1381C2989 1374 3037 1374 3044 1378C3051 1383 3043 1414 3041 1422C3039 1431 3030 1445 3024 1447C3019 1449 3002 1447 2997 1439C2992 1431 2978 1389 2983 1381Z" fill="#23381d"/>
<path d="M3475 1692C3483 1685 3533 1688 3544 1692C3555 1696 3561 1714 3566 1725C3571 1736 3581 1769 3585 1780C3589 1791 3597 1811 3599 1818C3600 1826 3599 1844 3596 1846C3593 1848 3579 1841 3571 1835C3563 1829 3541 1804 3530 1794C3519 1784 3484 1765 3478 1752C3471 1740 3467 1699 3475 1692Z" fill="#253a1f"/>
<path d="M2533 1285C2537 1276 2559 1287 2566 1290C2572 1294 2584 1303 2585 1312C2586 1322 2581 1358 2577 1368C2572 1377 2552 1390 2546 1390C2541 1390 2532 1380 2530 1368C2528 1355 2528 1294 2533 1285Z" fill="#273e20"/>
<path d="M2838 1447C2847 1440 2905 1442 2914 1447C2924 1453 2917 1484 2920 1491C2923 1498 2930 1506 2936 1505C2943 1504 2968 1488 2975 1483C2982 1478 2981 1462 2992 1466C3002 1471 3059 1507 3066 1519C3072 1531 3055 1553 3044 1566C3033 1578 2985 1623 2975 1626C2965 1629 2969 1596 2964 1588C2959 1579 2947 1560 2934 1554C2921 1549 2866 1547 2854 1541C2842 1535 2839 1516 2838 1505C2836 1494 2828 1454 2838 1447Z" fill="#273e20"/>
<path d="M3502 1285C3507 1278 3548 1282 3558 1285C3567 1288 3578 1308 3585 1312C3592 1317 3613 1322 3612 1324C3612 1325 3586 1325 3580 1329C3573 1333 3565 1355 3558 1356C3550 1358 3523 1349 3516 1340C3510 1331 3498 1292 3502 1285Z" fill="#273e20"/>
<path d="M3343 1725C3344 1719 3351 1702 3354 1703C3357 1704 3367 1727 3370 1736C3374 1745 3388 1769 3387 1774C3386 1780 3370 1783 3365 1780C3360 1777 3351 1759 3348 1752C3346 1746 3342 1731 3343 1725Z" fill="#273e20"/>
<path d="M2700 1246C2705 1238 2730 1249 2741 1252C2752 1255 2782 1270 2791 1274C2800 1278 2820 1283 2816 1285C2811 1287 2766 1284 2755 1288C2744 1291 2734 1308 2728 1312C2721 1317 2703 1334 2700 1326C2697 1318 2695 1255 2700 1246Z" fill="#274020"/>
<path d="M3538 1164C3543 1158 3573 1150 3585 1153C3597 1156 3630 1180 3640 1192C3650 1203 3664 1235 3668 1246C3671 1258 3674 1278 3673 1285C3672 1292 3668 1305 3662 1307C3656 1309 3635 1305 3626 1302C3618 1298 3599 1280 3590 1274C3582 1268 3563 1258 3558 1249C3552 1241 3546 1213 3544 1202C3541 1192 3533 1170 3538 1164Z" fill="#274022"/>
<path d="M2697 1400C2704 1390 2741 1377 2755 1376C2769 1374 2807 1381 2816 1387C2824 1392 2821 1414 2824 1422C2826 1431 2853 1456 2838 1461C2822 1466 2714 1468 2697 1461C2680 1454 2690 1411 2697 1400Z" fill="#274120"/>
<path d="M3154 1117C3155 1114 3175 1110 3181 1109C3187 1108 3201 1105 3203 1109C3206 1113 3207 1138 3203 1142C3200 1146 3179 1142 3173 1139C3167 1136 3153 1121 3154 1117Z" fill="#274224"/>
<path d="M2860 1439C2863 1432 2884 1412 2892 1406C2901 1400 2922 1395 2931 1392C2940 1389 2958 1380 2964 1381C2970 1383 2978 1400 2980 1406C2983 1412 2987 1428 2983 1434C2979 1439 2958 1447 2948 1450C2937 1453 2902 1460 2892 1461C2883 1462 2869 1464 2865 1461C2861 1458 2856 1446 2860 1439Z" fill="#294422"/>
<path d="M3159 1513C3161 1510 3179 1507 3184 1508C3189 1509 3201 1518 3203 1522C3206 1525 3207 1539 3203 1541C3200 1542 3178 1536 3173 1532C3168 1529 3158 1516 3159 1513Z" fill="#2b4624"/>
<path d="M3646 1400C3647 1396 3676 1415 3684 1422C3692 1430 3711 1456 3709 1461C3707 1466 3675 1468 3668 1461C3660 1454 3644 1405 3646 1400Z" fill="#2b4724"/>
<path d="M3392 1186C3395 1181 3413 1165 3420 1164C3427 1163 3441 1170 3448 1175C3454 1180 3472 1197 3475 1202C3478 1208 3480 1219 3475 1219C3470 1219 3443 1202 3434 1200C3425 1198 3403 1204 3398 1202C3393 1201 3390 1191 3392 1186Z" fill="#2b4724"/>
<path d="M3238 1544C3239 1539 3251 1547 3255 1554C3259 1562 3268 1597 3269 1604C3270 1611 3266 1616 3263 1615C3261 1614 3250 1602 3247 1593C3244 1584 3238 1548 3238 1544Z" fill="#2d4924"/>
<path d="M2697 1447C2714 1426 2820 1444 2838 1447C2855 1451 2844 1469 2843 1478C2842 1486 2839 1513 2832 1519C2825 1525 2792 1522 2782 1527C2773 1532 2762 1551 2755 1560C2748 1569 2734 1597 2728 1604C2721 1611 2701 1639 2697 1620C2694 1602 2680 1468 2697 1447Z" fill="#2d4926"/>
<path d="M2799 1238C2801 1233 2818 1227 2824 1227C2830 1228 2843 1238 2848 1244C2854 1249 2866 1269 2868 1274C2870 1279 2869 1287 2865 1288C2861 1289 2839 1285 2832 1282C2825 1280 2814 1274 2810 1268C2806 1263 2797 1243 2799 1238Z" fill="#2c4a26"/>
<path d="M3222 1186C3226 1180 3243 1161 3250 1158C3256 1156 3277 1159 3280 1164C3283 1169 3277 1195 3274 1202C3272 1210 3265 1227 3260 1230C3256 1233 3241 1227 3236 1224C3231 1222 3221 1213 3219 1208C3218 1203 3218 1192 3222 1186Z" fill="#2d4b26"/>
</g>
<path d="M2614 1300L2582 1853" stroke="#bfa36a" stroke-width="10" fill="none"/>
<path d="M3239 1700L3246.7 1846" stroke="#b09a66" stroke-width="11" fill="none"/>
<path d="M3313 1520L3280 1846" stroke="#94794a" stroke-width="11" fill="none"/>
<g filter="url(#lf)">
<path d="M3321 1378C3323 1375 3337 1385 3343 1390C3349 1394 3366 1409 3368 1414C3369 1419 3359 1430 3354 1431C3349 1431 3333 1426 3329 1420C3325 1413 3319 1382 3321 1378Z" fill="#2e4d26"/>
<path d="M3197 1252C3200 1236 3210 1252 3216 1258C3223 1263 3242 1288 3250 1296C3257 1304 3270 1319 3277 1326C3284 1333 3305 1347 3310 1354C3315 1360 3324 1374 3321 1378C3318 1383 3294 1390 3282 1392C3271 1394 3238 1395 3228 1395C3217 1395 3201 1407 3197 1390C3194 1372 3195 1268 3197 1252Z" fill="#2e4f26"/>
<path d="M3365 1604C3365 1601 3371 1586 3376 1582C3381 1578 3402 1570 3409 1571C3416 1572 3433 1590 3431 1593C3429 1596 3399 1597 3392 1598C3386 1600 3379 1609 3376 1610C3373 1610 3365 1607 3365 1604Z" fill="#304f28"/>
<path d="M3288 1447C3290 1442 3316 1441 3321 1447C3326 1453 3326 1487 3329 1497C3333 1507 3343 1525 3348 1532C3354 1540 3368 1553 3376 1557C3384 1562 3408 1564 3414 1568C3421 1573 3430 1590 3431 1593C3432 1596 3425 1595 3420 1593C3415 1591 3400 1583 3392 1579C3385 1575 3363 1566 3354 1560C3345 1554 3327 1540 3321 1532C3315 1525 3308 1504 3304 1494C3301 1484 3286 1453 3288 1447Z" fill="#305128"/>
<path d="M3442 1821C3443 1817 3460 1805 3464 1808C3468 1810 3473 1842 3472 1846C3472 1850 3462 1843 3458 1840C3455 1838 3441 1825 3442 1821Z" fill="#305128"/>
<path d="M3426 1104C3429 1100 3466 1092 3475 1092C3484 1092 3496 1099 3502 1104C3509 1108 3526 1124 3530 1134C3534 1144 3542 1181 3538 1186C3535 1191 3511 1181 3502 1175C3494 1169 3477 1145 3470 1139C3462 1133 3447 1130 3442 1126C3437 1121 3422 1107 3426 1104Z" fill="#305329"/>
<path d="M3629 1334C3632 1328 3649 1323 3656 1324C3664 1324 3688 1332 3695 1337C3702 1342 3716 1360 3714 1365C3713 1370 3692 1375 3684 1378C3676 1382 3658 1395 3651 1395C3644 1395 3632 1383 3629 1376C3626 1368 3626 1341 3629 1334Z" fill="#305329"/>
<path d="M3461 1478C3467 1472 3489 1464 3497 1464C3505 1464 3524 1473 3530 1478C3536 1482 3545 1495 3546 1505C3548 1515 3545 1547 3544 1560C3542 1573 3540 1610 3536 1612C3531 1615 3512 1588 3502 1582C3493 1576 3465 1567 3458 1563C3452 1559 3446 1555 3445 1549C3443 1543 3446 1519 3448 1510C3449 1502 3455 1483 3461 1478Z" fill="#305329"/>
<path d="M2452 1029C2447 1021 2455 1019 2461 1025C2467 1032 2498 1076 2502 1084C2507 1092 2503 1096 2497 1090C2491 1083 2456 1037 2452 1029Z" fill="#305428"/>
<path d="M3049 1176C3050 1175 3077 1168 3085 1164C3093 1160 3105 1145 3112 1142C3120 1139 3135 1134 3146 1135C3156 1136 3196 1143 3203 1148C3210 1152 3209 1168 3203 1170C3197 1171 3165 1164 3154 1164C3143 1164 3121 1165 3112 1167C3104 1168 3087 1174 3080 1175C3072 1176 3049 1178 3049 1176Z" fill="#30542b"/>
<path d="M3168 1252C3172 1245 3199 1239 3203 1246C3208 1254 3208 1305 3203 1312C3199 1320 3169 1313 3165 1306C3160 1298 3163 1259 3168 1252Z" fill="#305429"/>
<path d="M3662 1447C3665 1444 3688 1444 3695 1447C3702 1451 3717 1471 3722 1478C3728 1484 3742 1497 3744 1502C3747 1507 3749 1518 3746 1519C3743 1520 3729 1513 3722 1510C3716 1508 3701 1501 3695 1497C3689 1493 3677 1483 3673 1478C3669 1472 3659 1451 3662 1447Z" fill="#325429"/>
<path d="M2505 1142C2510 1138 2523 1138 2530 1138C2537 1138 2560 1140 2566 1145C2571 1149 2573 1169 2577 1175C2580 1181 2592 1189 2596 1197C2600 1205 2608 1229 2607 1238C2606 1247 2590 1267 2585 1274C2580 1281 2569 1291 2563 1296C2557 1301 2542 1317 2538 1312C2535 1308 2536 1267 2533 1258C2529 1248 2519 1241 2511 1236C2503 1230 2469 1221 2467 1214C2464 1206 2484 1184 2489 1175C2493 1166 2500 1146 2505 1142Z" fill="#325629"/>
<path d="M3558 1356C3556 1352 3573 1333 3580 1329C3586 1325 3609 1321 3612 1324C3616 1326 3612 1343 3610 1348C3607 1354 3597 1367 3590 1368C3584 1368 3559 1361 3558 1356Z" fill="#32562b"/>
<path d="M3197 1082C3202 1082 3223 1114 3233 1120C3243 1126 3269 1128 3277 1131C3285 1134 3287 1138 3296 1142C3305 1146 3341 1159 3351 1164C3361 1169 3377 1181 3382 1186C3386 1191 3396 1199 3392 1202C3389 1206 3364 1216 3354 1219C3344 1222 3320 1228 3310 1230C3300 1232 3277 1237 3272 1236C3266 1234 3263 1220 3263 1214C3264 1207 3278 1188 3277 1180C3276 1173 3262 1159 3255 1153C3248 1147 3229 1136 3222 1131C3215 1126 3200 1120 3197 1114C3194 1109 3193 1081 3197 1082Z" fill="#34582b"/>
<path d="M2719 1180C2720 1178 2730 1186 2736 1192C2742 1197 2762 1219 2769 1224C2775 1230 2792 1238 2791 1238C2789 1239 2763 1233 2755 1230C2747 1227 2732 1219 2728 1214C2723 1208 2718 1183 2719 1180Z" fill="#355a2c"/>
<path d="M3673 1255C3676 1251 3695 1260 3700 1266C3706 1271 3718 1290 3722 1299C3727 1308 3736 1328 3739 1340C3742 1352 3745 1383 3744 1395C3744 1407 3739 1436 3736 1439C3734 1442 3725 1426 3722 1417C3720 1408 3718 1378 3714 1368C3711 1357 3699 1335 3695 1326C3691 1317 3681 1302 3678 1293C3676 1285 3670 1258 3673 1255Z" fill="#365a2d"/>
<path d="M3607 1392C3609 1386 3624 1404 3629 1409C3634 1414 3642 1427 3646 1434C3649 1440 3666 1458 3662 1461C3658 1464 3619 1469 3612 1461C3606 1453 3605 1399 3607 1392Z" fill="#365a2d"/>
<path d="M3296 1461C3290 1458 3301 1438 3304 1434C3308 1429 3323 1420 3329 1420C3335 1420 3350 1429 3354 1434C3358 1438 3366 1458 3360 1461C3353 1464 3303 1464 3296 1461Z" fill="#365a2d"/>
<path d="M2938 1337C2939 1328 2956 1298 2964 1288C2972 1278 2993 1258 3002 1252C3012 1246 3033 1236 3044 1234C3055 1232 3083 1231 3093 1233C3103 1235 3122 1244 3129 1249C3136 1255 3147 1273 3151 1280C3155 1286 3166 1299 3165 1306C3163 1313 3148 1330 3140 1337C3132 1344 3110 1360 3099 1365C3087 1370 3057 1377 3044 1378C3031 1380 3000 1378 2989 1376C2978 1374 2959 1367 2953 1362C2947 1357 2937 1346 2938 1337Z" fill="#345c2b"/>
<path d="M2434 1642C2435 1640 2452 1645 2456 1648C2460 1651 2466 1665 2467 1670C2467 1675 2464 1687 2461 1686C2459 1686 2451 1673 2448 1667C2444 1662 2433 1645 2434 1642Z" fill="#385a2d"/>
<path d="M2770 1593C2773 1587 2788 1584 2791 1588C2794 1591 2797 1613 2796 1620C2795 1628 2783 1642 2782 1648C2782 1654 2790 1665 2791 1670C2791 1675 2788 1687 2785 1692C2783 1697 2771 1715 2769 1711C2767 1708 2769 1673 2769 1664C2768 1656 2766 1646 2766 1637C2766 1628 2767 1599 2770 1593Z" fill="#385a2d"/>
<path d="M3464 1274C3465 1270 3490 1248 3497 1246C3504 1245 3521 1254 3524 1258C3528 1261 3531 1276 3530 1280C3529 1283 3524 1290 3519 1290C3514 1291 3495 1284 3489 1282C3482 1280 3463 1278 3464 1274Z" fill="#385e2d"/>
<path d="M2914 1450C2918 1448 2939 1444 2948 1442C2956 1440 2983 1431 2989 1434C2994 1436 3000 1458 2992 1461C2983 1464 2924 1462 2914 1461C2905 1460 2911 1452 2914 1450Z" fill="#38602f"/>
<path d="M3475 1219C3477 1217 3506 1224 3516 1227C3526 1231 3549 1244 3558 1249C3566 1255 3583 1268 3590 1274C3598 1280 3619 1295 3618 1296C3617 1297 3594 1289 3585 1285C3576 1281 3554 1271 3544 1266C3534 1261 3511 1249 3502 1244C3494 1238 3473 1221 3475 1219Z" fill="#3a602f"/>
<path d="M3629 1447C3632 1445 3658 1444 3662 1447C3666 1450 3661 1468 3659 1472C3658 1476 3654 1483 3651 1483C3648 1483 3640 1474 3637 1469C3635 1465 3626 1450 3629 1447Z" fill="#3a602f"/>
<path d="M3197 1447C3200 1446 3220 1445 3222 1447C3224 1449 3219 1462 3216 1464C3214 1465 3200 1463 3197 1461C3195 1459 3194 1449 3197 1447Z" fill="#3a602f"/>
<path d="M3350 1035C3351 1031 3358 1024 3362 1025C3366 1026 3376 1040 3382 1046C3387 1051 3402 1062 3406 1070C3411 1079 3419 1105 3420 1114C3421 1124 3419 1144 3417 1153C3415 1162 3406 1183 3404 1186C3401 1189 3396 1181 3392 1175C3389 1169 3380 1144 3376 1134C3372 1123 3365 1096 3362 1087C3360 1078 3358 1063 3357 1057C3355 1050 3349 1039 3350 1035Z" fill="#3a6031"/>
<path d="M3044 1378C3051 1374 3087 1370 3099 1365C3110 1360 3132 1344 3140 1337C3148 1330 3159 1305 3165 1306C3171 1306 3186 1329 3190 1340C3193 1351 3195 1380 3195 1395C3195 1410 3203 1453 3187 1461C3171 1469 3080 1464 3063 1461C3046 1458 3049 1441 3046 1434C3044 1426 3041 1407 3041 1400C3041 1394 3037 1383 3044 1378Z" fill="#38622d"/>
<path d="M2318 1182C2320 1179 2347 1169 2354 1164C2361 1159 2372 1145 2376 1139C2380 1134 2385 1122 2390 1117C2395 1112 2410 1101 2417 1098C2424 1095 2441 1092 2448 1091C2454 1091 2469 1092 2475 1094C2481 1096 2496 1102 2500 1106C2503 1110 2505 1123 2505 1128C2505 1134 2502 1147 2500 1153C2498 1159 2493 1168 2489 1175C2485 1182 2476 1205 2467 1208C2458 1211 2420 1205 2412 1202C2404 1200 2406 1187 2401 1186C2396 1185 2377 1196 2370 1197C2364 1198 2349 1193 2343 1192C2337 1190 2317 1185 2318 1182Z" fill="#3a622f"/>
<path d="M2236 1461C2219 1458 2259 1443 2269 1439C2278 1435 2303 1429 2316 1428C2328 1427 2365 1429 2376 1431C2387 1433 2400 1441 2404 1444C2407 1448 2429 1459 2409 1461C2389 1463 2253 1464 2236 1461Z" fill="#3a622f"/>
<path d="M2681 1689C2683 1687 2701 1680 2703 1681C2706 1682 2705 1698 2703 1700C2701 1702 2689 1700 2687 1699C2684 1698 2679 1691 2681 1689Z" fill="#3a622f"/>
<path d="M3052 1447C3067 1443 3167 1444 3181 1447C3196 1451 3176 1469 3173 1478C3170 1486 3160 1507 3156 1519C3153 1530 3145 1564 3143 1574C3140 1583 3137 1597 3134 1598C3132 1600 3127 1592 3124 1588C3120 1583 3109 1567 3104 1560C3099 1553 3088 1539 3082 1530C3077 1521 3061 1496 3058 1486C3054 1476 3037 1452 3052 1447Z" fill="#3a622f"/>
<path d="M3263 1214C3264 1207 3276 1186 3282 1180C3289 1175 3306 1165 3316 1164C3325 1163 3357 1172 3365 1175C3373 1178 3380 1182 3382 1186C3383 1190 3380 1203 3376 1208C3372 1213 3357 1221 3348 1224C3340 1228 3313 1237 3304 1238C3296 1240 3279 1241 3274 1238C3269 1235 3262 1220 3263 1214Z" fill="#3a622f"/>
<path d="M2599 1200C2598 1188 2604 1164 2610 1158C2615 1153 2637 1152 2646 1153C2654 1154 2675 1161 2681 1164C2688 1167 2697 1163 2700 1180C2703 1198 2706 1295 2703 1312C2700 1330 2678 1320 2673 1324C2668 1327 2663 1343 2659 1340C2655 1337 2646 1309 2640 1299C2634 1289 2617 1269 2612 1258C2608 1246 2599 1212 2599 1200Z" fill="#3a6231"/>
<path d="M2538 1461C2529 1454 2550 1410 2555 1400C2560 1391 2573 1381 2580 1381C2586 1382 2606 1401 2612 1406C2619 1411 2633 1416 2634 1422C2636 1429 2641 1456 2629 1461C2617 1466 2547 1468 2538 1461Z" fill="#3b622f"/>
<path d="M3294 1246C3294 1244 3309 1238 3316 1237C3322 1236 3342 1238 3348 1241C3355 1244 3371 1261 3370 1263C3370 1265 3350 1258 3343 1258C3336 1257 3321 1260 3316 1259C3310 1258 3294 1249 3294 1246Z" fill="#3b6231"/>
<path d="M3458 1563C3455 1559 3468 1554 3475 1554C3482 1555 3508 1565 3516 1568C3524 1572 3539 1577 3541 1582C3543 1587 3540 1612 3536 1612C3531 1612 3512 1588 3502 1582C3493 1576 3462 1566 3458 1563Z" fill="#3b6231"/>
<path d="M3197 1046C3198 1042 3210 1039 3216 1038C3223 1036 3248 1035 3255 1036C3262 1037 3272 1041 3274 1046C3277 1051 3277 1072 3276 1079C3275 1085 3269 1096 3266 1101C3263 1105 3251 1117 3247 1117C3242 1117 3232 1106 3228 1101C3223 1095 3212 1077 3208 1070C3205 1064 3196 1050 3197 1046Z" fill="#3b6232"/>
<path d="M2269 1890C2261 1885 2301 1855 2310 1846C2319 1837 2335 1824 2343 1818C2351 1813 2369 1803 2376 1802C2383 1801 2396 1803 2398 1808C2400 1812 2395 1831 2392 1840C2390 1850 2391 1884 2376 1890C2361 1896 2277 1895 2269 1890Z" fill="#3b632f"/>
<path d="M3423 1061C3419 1058 3425 1054 3431 1054C3437 1054 3465 1062 3475 1065C3485 1068 3509 1075 3516 1079C3524 1082 3531 1088 3536 1092C3540 1097 3546 1112 3552 1114C3558 1117 3578 1111 3585 1112C3592 1112 3607 1114 3612 1117C3618 1121 3630 1135 3634 1142C3639 1149 3648 1168 3651 1175C3654 1182 3663 1198 3663 1202C3664 1207 3659 1212 3656 1211C3654 1209 3645 1194 3640 1189C3635 1183 3619 1169 3612 1164C3606 1159 3592 1152 3585 1150C3578 1149 3563 1153 3558 1153C3552 1153 3539 1150 3536 1148C3532 1145 3534 1137 3530 1131C3526 1125 3511 1107 3502 1101C3494 1095 3471 1086 3461 1082C3452 1077 3426 1064 3423 1061Z" fill="#3b6331"/>
<path d="M3071 1192C3073 1188 3084 1180 3090 1178C3097 1175 3120 1170 3129 1170C3138 1169 3159 1170 3165 1172C3171 1175 3178 1186 3178 1192C3179 1197 3176 1214 3173 1219C3170 1224 3157 1231 3151 1233C3145 1235 3127 1238 3121 1237C3114 1236 3101 1231 3096 1227C3091 1224 3082 1212 3080 1208C3077 1204 3070 1195 3071 1192Z" fill="#416231"/>
<path d="M3080 1136C3075 1135 3071 1109 3071 1101C3072 1092 3081 1072 3085 1065C3089 1058 3101 1047 3107 1043C3113 1039 3127 1035 3134 1033C3142 1032 3165 1032 3173 1032C3181 1032 3200 1033 3203 1035C3207 1036 3208 1043 3203 1046C3199 1049 3175 1055 3168 1060C3160 1064 3147 1075 3140 1082C3133 1088 3120 1108 3112 1114C3105 1121 3084 1138 3080 1136Z" fill="#3b6532"/>
<path d="M3228 1268C3231 1264 3267 1258 3277 1258C3287 1257 3308 1261 3313 1266C3317 1271 3316 1290 3316 1299C3315 1307 3311 1329 3310 1334C3309 1340 3308 1346 3304 1346C3301 1345 3284 1332 3277 1326C3270 1320 3255 1303 3250 1296C3244 1289 3224 1273 3228 1268Z" fill="#3d6532"/>
<path d="M3294 1046C3296 1041 3310 1035 3316 1033C3321 1032 3339 1033 3343 1035C3347 1036 3351 1041 3350 1046C3349 1050 3341 1066 3338 1073C3334 1080 3325 1098 3321 1104C3317 1109 3308 1117 3304 1117C3301 1117 3295 1109 3294 1104C3292 1098 3291 1080 3291 1073C3291 1066 3291 1051 3294 1046Z" fill="#3e6534"/>
<path d="M2697 1698C2695 1692 2702 1656 2706 1648C2709 1640 2718 1633 2725 1632C2731 1630 2756 1634 2760 1637C2765 1640 2768 1653 2766 1659C2764 1665 2752 1679 2747 1684C2741 1688 2728 1693 2722 1695C2716 1696 2699 1703 2697 1698Z" fill="#3f6532"/>
<path d="M2697 1148C2700 1139 2714 1157 2716 1164C2719 1171 2720 1195 2719 1202C2719 1210 2714 1221 2711 1224C2708 1228 2699 1245 2697 1236C2696 1226 2695 1156 2697 1148Z" fill="#3e6632"/>
<path d="M2780 1535C2780 1533 2802 1529 2810 1530C2818 1530 2838 1537 2843 1541C2848 1544 2855 1558 2854 1560C2853 1562 2838 1556 2832 1554C2826 1553 2811 1549 2804 1546C2798 1544 2779 1537 2780 1535Z" fill="#416534"/>
<path d="M2280 1318C2283 1308 2302 1293 2310 1285C2318 1277 2337 1261 2348 1252C2360 1243 2399 1213 2404 1211C2408 1209 2392 1229 2387 1236C2382 1242 2364 1258 2360 1266C2355 1273 2350 1289 2351 1296C2353 1303 2372 1317 2370 1324C2369 1330 2343 1346 2338 1354C2332 1362 2328 1384 2324 1390C2319 1395 2306 1403 2302 1400C2297 1398 2288 1377 2285 1368C2283 1358 2277 1328 2280 1318Z" fill="#3f6731"/>
<path d="M2398 1808C2401 1798 2411 1781 2417 1779C2423 1776 2440 1784 2448 1788C2455 1792 2471 1805 2480 1813C2490 1821 2535 1848 2524 1853C2514 1858 2408 1861 2392 1856C2377 1850 2395 1817 2398 1808Z" fill="#3f6732"/>
<path d="M3398 1202C3400 1198 3425 1198 3434 1200C3442 1202 3462 1214 3470 1219C3477 1224 3493 1237 3497 1241C3501 1245 3502 1249 3500 1252C3498 1255 3485 1266 3480 1268C3476 1271 3469 1275 3464 1274C3459 1273 3448 1262 3442 1258C3436 1253 3423 1242 3417 1236C3412 1229 3396 1207 3398 1202Z" fill="#3f6732"/>
<path d="M2697 1329C2701 1321 2717 1329 2728 1332C2738 1334 2773 1345 2782 1348C2792 1352 2807 1359 2810 1362C2813 1365 2811 1374 2807 1376C2804 1378 2789 1378 2782 1378C2776 1378 2762 1374 2755 1376C2748 1378 2734 1392 2728 1395C2721 1398 2701 1408 2697 1400C2694 1393 2694 1337 2697 1329Z" fill="#3e6932"/>
<path d="M2211 1598C2207 1587 2209 1515 2211 1500C2213 1484 2222 1478 2228 1472C2233 1466 2248 1450 2255 1447C2262 1444 2280 1443 2282 1447C2285 1452 2274 1474 2277 1483C2280 1492 2299 1512 2304 1519C2310 1526 2324 1534 2321 1541C2318 1547 2292 1564 2282 1571C2273 1578 2250 1592 2241 1596C2233 1599 2215 1610 2211 1598Z" fill="#3f6932"/>
<path d="M2508 1510C2509 1505 2520 1497 2524 1491C2529 1486 2540 1472 2544 1466C2548 1461 2549 1450 2558 1447C2566 1445 2608 1443 2612 1447C2617 1452 2602 1474 2599 1483C2595 1492 2589 1511 2585 1519C2581 1526 2571 1539 2566 1544C2560 1548 2544 1560 2538 1560C2533 1560 2523 1547 2519 1541C2515 1535 2507 1516 2508 1510Z" fill="#416934"/>
<path d="M2914 1447C2922 1442 2977 1445 2986 1447C2995 1450 2994 1461 2992 1466C2989 1472 2971 1487 2964 1491C2957 1496 2942 1505 2936 1505C2931 1505 2923 1498 2920 1491C2917 1484 2907 1453 2914 1447Z" fill="#416934"/>
<path d="M2615 1134C2614 1130 2623 1122 2629 1120C2635 1118 2654 1118 2662 1120C2670 1122 2687 1136 2692 1139C2697 1143 2702 1145 2703 1148C2705 1150 2708 1158 2703 1158C2699 1159 2675 1154 2668 1153C2660 1152 2646 1153 2640 1150C2634 1148 2617 1137 2615 1134Z" fill="#416b35"/>
<path d="M2747 1285C2749 1281 2773 1282 2782 1282C2792 1283 2814 1285 2824 1288C2834 1290 2856 1298 2865 1302C2874 1305 2899 1319 2898 1321C2897 1322 2862 1315 2854 1315C2846 1316 2839 1325 2832 1326C2825 1328 2804 1330 2796 1329C2788 1328 2769 1321 2763 1315C2757 1310 2744 1289 2747 1285Z" fill="#416b35"/>
<path d="M2854 1560C2854 1552 2864 1545 2870 1544C2877 1542 2900 1544 2909 1546C2918 1549 2936 1560 2942 1566C2948 1571 2958 1585 2961 1593C2965 1601 2965 1624 2970 1629C2974 1633 2992 1631 2997 1632C3002 1632 3012 1630 3011 1632C3009 1633 2992 1645 2986 1648C2980 1651 2966 1659 2958 1659C2951 1659 2928 1651 2920 1648C2912 1645 2898 1636 2892 1632C2887 1627 2875 1618 2870 1610C2866 1601 2854 1568 2854 1560Z" fill="#456938"/>
<path d="M2662 1326C2666 1322 2698 1316 2703 1324C2708 1331 2706 1382 2703 1390C2701 1397 2686 1387 2681 1384C2677 1381 2670 1369 2668 1362C2665 1355 2658 1331 2662 1326Z" fill="#436d36"/>
<path d="M2272 1447C2285 1444 2377 1446 2392 1447C2408 1449 2405 1456 2404 1461C2402 1466 2383 1485 2376 1491C2369 1498 2350 1512 2343 1516C2336 1520 2325 1526 2318 1524C2312 1522 2296 1505 2291 1500C2286 1494 2279 1484 2277 1478C2275 1471 2258 1451 2272 1447Z" fill="#436d36"/>
<path d="M2326 1392C2325 1384 2338 1364 2343 1356C2348 1349 2360 1329 2370 1329C2381 1329 2420 1349 2434 1354C2448 1359 2479 1367 2489 1370C2498 1373 2508 1368 2514 1377C2519 1387 2537 1443 2536 1450C2534 1457 2511 1440 2502 1436C2494 1433 2471 1422 2464 1422C2457 1423 2451 1443 2442 1444C2433 1446 2403 1442 2392 1439C2382 1436 2362 1428 2354 1422C2346 1417 2328 1400 2326 1392Z" fill="#456d36"/>
<path d="M2810 1332C2810 1328 2827 1332 2832 1334C2837 1337 2847 1349 2854 1354C2861 1359 2885 1371 2892 1376C2900 1380 2922 1392 2920 1392C2918 1393 2885 1382 2876 1378C2867 1375 2849 1361 2843 1359C2837 1357 2833 1365 2829 1362C2825 1359 2810 1335 2810 1332Z" fill="#456d38"/>
<path d="M3321 1447C3324 1441 3349 1444 3354 1447C3359 1451 3362 1470 3365 1478C3368 1485 3375 1507 3376 1513C3377 1520 3369 1528 3370 1532C3372 1537 3387 1548 3392 1552C3398 1556 3413 1564 3414 1566C3416 1567 3408 1569 3404 1568C3399 1567 3383 1562 3376 1557C3369 1553 3354 1540 3348 1532C3343 1525 3333 1507 3329 1497C3326 1487 3318 1453 3321 1447Z" fill="#456d38"/>
<path d="M2409 1208C2416 1206 2437 1216 2448 1219C2458 1222 2488 1226 2497 1230C2506 1234 2520 1245 2524 1252C2529 1259 2533 1275 2534 1285C2535 1295 2535 1324 2533 1334C2531 1345 2522 1371 2516 1376C2511 1380 2499 1373 2489 1370C2479 1368 2447 1359 2434 1354C2421 1349 2389 1336 2379 1329C2369 1322 2354 1304 2351 1296C2349 1288 2355 1273 2360 1266C2364 1258 2381 1242 2387 1236C2393 1229 2402 1210 2409 1208Z" fill="#598048"/>
</g>
<path d="M2412 1209L2519 1370" fill="none" stroke="#709660" stroke-width="1.8" stroke-linecap="round"/>
<path d="M2629 1164L2662 1337" fill="none" stroke="#709660" stroke-width="1.8" stroke-linecap="round"/>
<path d="M3165 1306L2942 1339" fill="none" stroke="#709660" stroke-width="1.8" stroke-linecap="round"/>
<path d="M3165 1306L3129 1458" fill="none" stroke="#709660" stroke-width="1.8" stroke-linecap="round"/>
<path d="M2392 1805L2332 1884" fill="none" stroke="#709660" stroke-width="1.8" stroke-linecap="round"/>
<path d="M2417 1779L2475 1853" fill="none" stroke="#709660" stroke-width="1.8" stroke-linecap="round"/>
<path d="M3274 1259L3307 1340" fill="none" stroke="#709660" stroke-width="1.8" stroke-linecap="round"/>
<path d="M3129 1450L3136 1593" fill="none" stroke="#709660" stroke-width="1.8" stroke-linecap="round"/>
<path d="M2404 1211L2291 1321" fill="none" stroke="#709660" stroke-width="1.8" stroke-linecap="round"/>
<path d="M2354 1340L2511 1409" fill="none" stroke="#709660" stroke-width="1.8" stroke-linecap="round"/>
<path d="M3365 1029L3409 1175" fill="none" stroke="#709660" stroke-width="1.8" stroke-linecap="round"/>
<path d="M3329 1450L3392 1560" fill="none" stroke="#709660" stroke-width="1.8" stroke-linecap="round"/>
<path d="M2448 1266L2527 1258" fill="none" stroke="#648c58" stroke-width="1.2" stroke-linecap="round"/>
<path d="M2470 1302L2531 1310" fill="none" stroke="#648c58" stroke-width="1.2" stroke-linecap="round"/>
<path d="M2439 1252L2376 1307" fill="none" stroke="#648c58" stroke-width="1.2" stroke-linecap="round"/>
<path d="M2464 1288L2409 1343" fill="none" stroke="#648c58" stroke-width="1.2" stroke-linecap="round"/>
<path d="M3099 1299L3024 1241" fill="none" stroke="#648c58" stroke-width="1.2" stroke-linecap="round"/>
<path d="M3058 1315L2975 1285" fill="none" stroke="#648c58" stroke-width="1.2" stroke-linecap="round"/>
<path d="M3151 1354L3080 1376" fill="none" stroke="#648c58" stroke-width="1.2" stroke-linecap="round"/>
<path d="M3143 1395L3066 1428" fill="none" stroke="#648c58" stroke-width="1.2" stroke-linecap="round"/>
<path d="M2434 1024Q2417 1120 2409 1202" fill="none" stroke="#5f8c4b" stroke-width="4" stroke-linecap="round"/>
<path d="M2423 1024Q2324 1098 2335 1126Q2346 1153 2404 1200" fill="none" stroke="#5f8c4b" stroke-width="3" stroke-linecap="round"/>
<path d="M2607 1070Q2508 1139 2470 1208" fill="none" stroke="#46703c" stroke-width="3.5" stroke-linecap="round"/>
<path d="M2585 1024Q2612 1065 2618 1095Q2624 1126 2629 1164" fill="none" stroke="#46703c" stroke-width="3.5" stroke-linecap="round"/>
<path d="M2502 1109Q2558 1104 2612 1126" fill="none" stroke="#375c30" stroke-width="4" stroke-linecap="round"/>
<path d="M2736 1192Q2782 1219 2810 1271" fill="none" stroke="#46703c" stroke-width="3" stroke-linecap="round"/>
<path d="M2716 1230Q2741 1271 2741 1312" fill="none" stroke="#46703c" stroke-width="3" stroke-linecap="round"/>
<path d="M2882 1332Q2948 1378 2992 1434" fill="none" stroke="#375c30" stroke-width="2.5" stroke-linecap="round"/>
<path d="M2912 1274Q2913 1299 2931 1310" fill="none" stroke="#78965a" stroke-width="3" stroke-linecap="round"/>
<path d="M2448 1478Q2434 1642 2430 1684Q2426 1725 2392 1805" fill="none" stroke="#46703c" stroke-width="3.5" stroke-linecap="round"/>
<path d="M2571 1629Q2558 1739 2574 1780Q2590 1821 2604 1846" fill="none" stroke="#375c30" stroke-width="7" stroke-linecap="round"/>
<path d="M2700 1563Q2763 1640 2769 1664" fill="none" stroke="#46703c" stroke-width="3" stroke-linecap="round"/>
<path d="M2769 1711Q2752 1739 2738 1761" fill="none" stroke="#4b6e3c" stroke-width="4" stroke-linecap="round"/>
<path d="M3125 1593Q3140 1656 3203 1742" fill="none" stroke="#375c30" stroke-width="3" stroke-linecap="round"/>
<path d="M2986 1458Q3030 1472 3058 1486" fill="none" stroke="#375c30" stroke-width="2.5" stroke-linecap="round"/>
<path d="M3354 1392Q3379 1356 3401 1324" fill="none" stroke="#5f8c4b" stroke-width="3.5" stroke-linecap="round"/>
<path d="M3489 1428Q3544 1384 3582 1363" fill="none" stroke="#46703c" stroke-width="4" stroke-linecap="round"/>
<path d="M3612 1321Q3611 1348 3610 1378" fill="none" stroke="#46703c" stroke-width="3" stroke-linecap="round"/>
<path d="M3618 1315L3656 1311" fill="none" stroke="#46703c" stroke-width="6" stroke-linecap="round"/>
<path d="M3200 1733Q3228 1780 3252 1813" fill="none" stroke="#375c30" stroke-width="3.5" stroke-linecap="round"/>
<path d="M3464 1450Q3426 1568 3390 1630Q3354 1692 3302 1780" fill="none" stroke="#375c30" stroke-width="3" stroke-linecap="round"/>
<path d="M3360 1604L3358 1684" fill="none" stroke="#375c30" stroke-width="2.5" stroke-linecap="round"/>
<path d="M3241 1478Q3255 1560 3250 1642" fill="none" stroke="#375c30" stroke-width="3" stroke-linecap="round"/>
<path d="M3343 1554Q3321 1588 3324 1670" fill="none" stroke="#375c30" stroke-width="2.5" stroke-linecap="round"/>
<g transform="translate(3382,1321) rotate(52)"><path d="M-26 -1.3H-11V-5.5L0 0L-11 5.5V1.3H-26Z" fill="#f01414"/></g>
<g transform="translate(3276,1446) rotate(45)"><path d="M-26 -1.3H-11V-5.5L0 0L-11 5.5V1.3H-26Z" fill="#f01414"/></g>
<g transform="translate(3276,1468) rotate(45)"><path d="M-26 -1.3H-11V-5.5L0 0L-11 5.5V1.3H-26Z" fill="#f01414"/></g>
<g transform="translate(3266,1549) rotate(139)"><path d="M-26 -1.3H-11V-5.5L0 0L-11 5.5V1.3H-26Z" fill="#f01414"/></g>
<g transform="translate(3354,1610) rotate(49)"><path d="M-26 -1.3H-11V-5.5L0 0L-11 5.5V1.3H-26Z" fill="#f01414"/></g>
<g transform="translate(3458,1555) rotate(138)"><path d="M-26 -1.3H-11V-5.5L0 0L-11 5.5V1.3H-26Z" fill="#f01414"/></g>
<g transform="translate(3436,1625) rotate(141)"><path d="M-26 -1.3H-11V-5.5L0 0L-11 5.5V1.3H-26Z" fill="#f01414"/></g>
<g transform="translate(3374,1725) rotate(139)"><path d="M-26 -1.3H-11V-5.5L0 0L-11 5.5V1.3H-26Z" fill="#f01414"/></g>
<g transform="translate(3206,1667) rotate(-30)"><path d="M-26 -1.3H-11V-5.5L0 0L-11 5.5V1.3H-26Z" fill="#f01414"/></g>
<g transform="translate(3200,1582) rotate(50)"><path d="M-26 -1.3H-11V-5.5L0 0L-11 5.5V1.3H-26Z" fill="#f01414"/></g>
<rect x="2378.8" y="1852.9" width="571.2" height="33.6" fill="#0f1416"/>
<rect x="2378.8" y="1852.9" width="571.2" height="3.6" fill="#1b2326"/>
<rect x="2950.0" y="1846.0" width="553.9" height="40.5" fill="#0d1214"/>
<rect x="2950.0" y="1846.0" width="553.9" height="4.4" fill="#182023"/>
<path d="M3252 1764L3272 1761L3280 1780L3269 1802L3255 1810Z" fill="#a8a48c"/>
<rect x="3327.1" y="1832.2" width="45.6" height="16.5" rx="4" fill="#c6c6c6"/>
<rect x="2594.1" y="1579.8" width="12.0" height="10.0" rx="2" fill="#b8871e"/>
<rect x="2573.5" y="1788.8" width="12.0" height="10.0" rx="2" fill="#b8871e"/>
<rect x="3246.2" y="1813.5" width="12.0" height="10.0" rx="2" fill="#b8871e"/>
</g></g>
</svg></body></html>
